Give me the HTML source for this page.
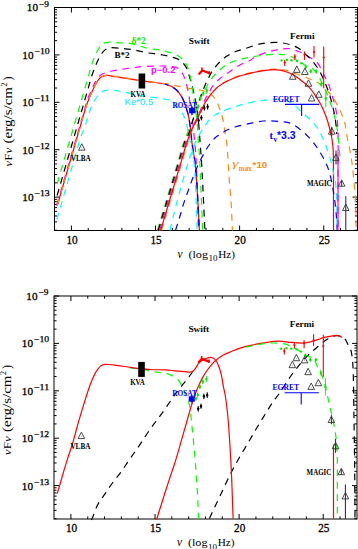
<!DOCTYPE html>
<html><head><meta charset="utf-8"><style>
html,body{margin:0;padding:0;background:#fff;overflow:hidden;width:358px;height:549px;}
svg{display:block;}
</style></head><body>
<svg width="358" height="549" viewBox="0 0 358 549"><line x1="71.42" y1="230.50" x2="71.42" y2="225.50" stroke="#000000" stroke-width="1.00"/>
<line x1="71.42" y1="7.50" x2="71.42" y2="12.50" stroke="#000000" stroke-width="1.00"/>
<line x1="88.24" y1="230.50" x2="88.24" y2="227.90" stroke="#000000" stroke-width="1.00"/>
<line x1="88.24" y1="7.50" x2="88.24" y2="10.10" stroke="#000000" stroke-width="1.00"/>
<line x1="105.06" y1="230.50" x2="105.06" y2="227.90" stroke="#000000" stroke-width="1.00"/>
<line x1="105.06" y1="7.50" x2="105.06" y2="10.10" stroke="#000000" stroke-width="1.00"/>
<line x1="121.88" y1="230.50" x2="121.88" y2="227.90" stroke="#000000" stroke-width="1.00"/>
<line x1="121.88" y1="7.50" x2="121.88" y2="10.10" stroke="#000000" stroke-width="1.00"/>
<line x1="138.70" y1="230.50" x2="138.70" y2="227.90" stroke="#000000" stroke-width="1.00"/>
<line x1="138.70" y1="7.50" x2="138.70" y2="10.10" stroke="#000000" stroke-width="1.00"/>
<line x1="155.52" y1="230.50" x2="155.52" y2="225.50" stroke="#000000" stroke-width="1.00"/>
<line x1="155.52" y1="7.50" x2="155.52" y2="12.50" stroke="#000000" stroke-width="1.00"/>
<line x1="172.34" y1="230.50" x2="172.34" y2="227.90" stroke="#000000" stroke-width="1.00"/>
<line x1="172.34" y1="7.50" x2="172.34" y2="10.10" stroke="#000000" stroke-width="1.00"/>
<line x1="189.16" y1="230.50" x2="189.16" y2="227.90" stroke="#000000" stroke-width="1.00"/>
<line x1="189.16" y1="7.50" x2="189.16" y2="10.10" stroke="#000000" stroke-width="1.00"/>
<line x1="205.98" y1="230.50" x2="205.98" y2="227.90" stroke="#000000" stroke-width="1.00"/>
<line x1="205.98" y1="7.50" x2="205.98" y2="10.10" stroke="#000000" stroke-width="1.00"/>
<line x1="222.80" y1="230.50" x2="222.80" y2="227.90" stroke="#000000" stroke-width="1.00"/>
<line x1="222.80" y1="7.50" x2="222.80" y2="10.10" stroke="#000000" stroke-width="1.00"/>
<line x1="239.62" y1="230.50" x2="239.62" y2="225.50" stroke="#000000" stroke-width="1.00"/>
<line x1="239.62" y1="7.50" x2="239.62" y2="12.50" stroke="#000000" stroke-width="1.00"/>
<line x1="256.44" y1="230.50" x2="256.44" y2="227.90" stroke="#000000" stroke-width="1.00"/>
<line x1="256.44" y1="7.50" x2="256.44" y2="10.10" stroke="#000000" stroke-width="1.00"/>
<line x1="273.26" y1="230.50" x2="273.26" y2="227.90" stroke="#000000" stroke-width="1.00"/>
<line x1="273.26" y1="7.50" x2="273.26" y2="10.10" stroke="#000000" stroke-width="1.00"/>
<line x1="290.08" y1="230.50" x2="290.08" y2="227.90" stroke="#000000" stroke-width="1.00"/>
<line x1="290.08" y1="7.50" x2="290.08" y2="10.10" stroke="#000000" stroke-width="1.00"/>
<line x1="306.90" y1="230.50" x2="306.90" y2="227.90" stroke="#000000" stroke-width="1.00"/>
<line x1="306.90" y1="7.50" x2="306.90" y2="10.10" stroke="#000000" stroke-width="1.00"/>
<line x1="323.72" y1="230.50" x2="323.72" y2="225.50" stroke="#000000" stroke-width="1.00"/>
<line x1="323.72" y1="7.50" x2="323.72" y2="12.50" stroke="#000000" stroke-width="1.00"/>
<line x1="340.54" y1="230.50" x2="340.54" y2="227.90" stroke="#000000" stroke-width="1.00"/>
<line x1="340.54" y1="7.50" x2="340.54" y2="10.10" stroke="#000000" stroke-width="1.00"/>
<line x1="54.50" y1="230.23" x2="57.10" y2="230.23" stroke="#000000" stroke-width="1.00"/>
<line x1="357.50" y1="230.23" x2="354.90" y2="230.23" stroke="#000000" stroke-width="1.00"/>
<line x1="54.50" y1="221.88" x2="57.10" y2="221.88" stroke="#000000" stroke-width="1.00"/>
<line x1="357.50" y1="221.88" x2="354.90" y2="221.88" stroke="#000000" stroke-width="1.00"/>
<line x1="54.50" y1="215.96" x2="57.10" y2="215.96" stroke="#000000" stroke-width="1.00"/>
<line x1="357.50" y1="215.96" x2="354.90" y2="215.96" stroke="#000000" stroke-width="1.00"/>
<line x1="54.50" y1="211.37" x2="57.10" y2="211.37" stroke="#000000" stroke-width="1.00"/>
<line x1="357.50" y1="211.37" x2="354.90" y2="211.37" stroke="#000000" stroke-width="1.00"/>
<line x1="54.50" y1="207.62" x2="57.10" y2="207.62" stroke="#000000" stroke-width="1.00"/>
<line x1="357.50" y1="207.62" x2="354.90" y2="207.62" stroke="#000000" stroke-width="1.00"/>
<line x1="54.50" y1="204.44" x2="57.10" y2="204.44" stroke="#000000" stroke-width="1.00"/>
<line x1="357.50" y1="204.44" x2="354.90" y2="204.44" stroke="#000000" stroke-width="1.00"/>
<line x1="54.50" y1="201.69" x2="57.10" y2="201.69" stroke="#000000" stroke-width="1.00"/>
<line x1="357.50" y1="201.69" x2="354.90" y2="201.69" stroke="#000000" stroke-width="1.00"/>
<line x1="54.50" y1="199.27" x2="57.10" y2="199.27" stroke="#000000" stroke-width="1.00"/>
<line x1="357.50" y1="199.27" x2="354.90" y2="199.27" stroke="#000000" stroke-width="1.00"/>
<line x1="54.50" y1="197.10" x2="59.50" y2="197.10" stroke="#000000" stroke-width="1.00"/>
<line x1="357.50" y1="197.10" x2="352.50" y2="197.10" stroke="#000000" stroke-width="1.00"/>
<line x1="54.50" y1="182.83" x2="57.10" y2="182.83" stroke="#000000" stroke-width="1.00"/>
<line x1="357.50" y1="182.83" x2="354.90" y2="182.83" stroke="#000000" stroke-width="1.00"/>
<line x1="54.50" y1="174.48" x2="57.10" y2="174.48" stroke="#000000" stroke-width="1.00"/>
<line x1="357.50" y1="174.48" x2="354.90" y2="174.48" stroke="#000000" stroke-width="1.00"/>
<line x1="54.50" y1="168.56" x2="57.10" y2="168.56" stroke="#000000" stroke-width="1.00"/>
<line x1="357.50" y1="168.56" x2="354.90" y2="168.56" stroke="#000000" stroke-width="1.00"/>
<line x1="54.50" y1="163.97" x2="57.10" y2="163.97" stroke="#000000" stroke-width="1.00"/>
<line x1="357.50" y1="163.97" x2="354.90" y2="163.97" stroke="#000000" stroke-width="1.00"/>
<line x1="54.50" y1="160.22" x2="57.10" y2="160.22" stroke="#000000" stroke-width="1.00"/>
<line x1="357.50" y1="160.22" x2="354.90" y2="160.22" stroke="#000000" stroke-width="1.00"/>
<line x1="54.50" y1="157.04" x2="57.10" y2="157.04" stroke="#000000" stroke-width="1.00"/>
<line x1="357.50" y1="157.04" x2="354.90" y2="157.04" stroke="#000000" stroke-width="1.00"/>
<line x1="54.50" y1="154.29" x2="57.10" y2="154.29" stroke="#000000" stroke-width="1.00"/>
<line x1="357.50" y1="154.29" x2="354.90" y2="154.29" stroke="#000000" stroke-width="1.00"/>
<line x1="54.50" y1="151.87" x2="57.10" y2="151.87" stroke="#000000" stroke-width="1.00"/>
<line x1="357.50" y1="151.87" x2="354.90" y2="151.87" stroke="#000000" stroke-width="1.00"/>
<line x1="54.50" y1="149.70" x2="59.50" y2="149.70" stroke="#000000" stroke-width="1.00"/>
<line x1="357.50" y1="149.70" x2="352.50" y2="149.70" stroke="#000000" stroke-width="1.00"/>
<line x1="54.50" y1="135.43" x2="57.10" y2="135.43" stroke="#000000" stroke-width="1.00"/>
<line x1="357.50" y1="135.43" x2="354.90" y2="135.43" stroke="#000000" stroke-width="1.00"/>
<line x1="54.50" y1="127.08" x2="57.10" y2="127.08" stroke="#000000" stroke-width="1.00"/>
<line x1="357.50" y1="127.08" x2="354.90" y2="127.08" stroke="#000000" stroke-width="1.00"/>
<line x1="54.50" y1="121.16" x2="57.10" y2="121.16" stroke="#000000" stroke-width="1.00"/>
<line x1="357.50" y1="121.16" x2="354.90" y2="121.16" stroke="#000000" stroke-width="1.00"/>
<line x1="54.50" y1="116.57" x2="57.10" y2="116.57" stroke="#000000" stroke-width="1.00"/>
<line x1="357.50" y1="116.57" x2="354.90" y2="116.57" stroke="#000000" stroke-width="1.00"/>
<line x1="54.50" y1="112.82" x2="57.10" y2="112.82" stroke="#000000" stroke-width="1.00"/>
<line x1="357.50" y1="112.82" x2="354.90" y2="112.82" stroke="#000000" stroke-width="1.00"/>
<line x1="54.50" y1="109.64" x2="57.10" y2="109.64" stroke="#000000" stroke-width="1.00"/>
<line x1="357.50" y1="109.64" x2="354.90" y2="109.64" stroke="#000000" stroke-width="1.00"/>
<line x1="54.50" y1="106.89" x2="57.10" y2="106.89" stroke="#000000" stroke-width="1.00"/>
<line x1="357.50" y1="106.89" x2="354.90" y2="106.89" stroke="#000000" stroke-width="1.00"/>
<line x1="54.50" y1="104.47" x2="57.10" y2="104.47" stroke="#000000" stroke-width="1.00"/>
<line x1="357.50" y1="104.47" x2="354.90" y2="104.47" stroke="#000000" stroke-width="1.00"/>
<line x1="54.50" y1="102.30" x2="59.50" y2="102.30" stroke="#000000" stroke-width="1.00"/>
<line x1="357.50" y1="102.30" x2="352.50" y2="102.30" stroke="#000000" stroke-width="1.00"/>
<line x1="54.50" y1="88.03" x2="57.10" y2="88.03" stroke="#000000" stroke-width="1.00"/>
<line x1="357.50" y1="88.03" x2="354.90" y2="88.03" stroke="#000000" stroke-width="1.00"/>
<line x1="54.50" y1="79.68" x2="57.10" y2="79.68" stroke="#000000" stroke-width="1.00"/>
<line x1="357.50" y1="79.68" x2="354.90" y2="79.68" stroke="#000000" stroke-width="1.00"/>
<line x1="54.50" y1="73.76" x2="57.10" y2="73.76" stroke="#000000" stroke-width="1.00"/>
<line x1="357.50" y1="73.76" x2="354.90" y2="73.76" stroke="#000000" stroke-width="1.00"/>
<line x1="54.50" y1="69.17" x2="57.10" y2="69.17" stroke="#000000" stroke-width="1.00"/>
<line x1="357.50" y1="69.17" x2="354.90" y2="69.17" stroke="#000000" stroke-width="1.00"/>
<line x1="54.50" y1="65.42" x2="57.10" y2="65.42" stroke="#000000" stroke-width="1.00"/>
<line x1="357.50" y1="65.42" x2="354.90" y2="65.42" stroke="#000000" stroke-width="1.00"/>
<line x1="54.50" y1="62.24" x2="57.10" y2="62.24" stroke="#000000" stroke-width="1.00"/>
<line x1="357.50" y1="62.24" x2="354.90" y2="62.24" stroke="#000000" stroke-width="1.00"/>
<line x1="54.50" y1="59.49" x2="57.10" y2="59.49" stroke="#000000" stroke-width="1.00"/>
<line x1="357.50" y1="59.49" x2="354.90" y2="59.49" stroke="#000000" stroke-width="1.00"/>
<line x1="54.50" y1="57.07" x2="57.10" y2="57.07" stroke="#000000" stroke-width="1.00"/>
<line x1="357.50" y1="57.07" x2="354.90" y2="57.07" stroke="#000000" stroke-width="1.00"/>
<line x1="54.50" y1="54.90" x2="59.50" y2="54.90" stroke="#000000" stroke-width="1.00"/>
<line x1="357.50" y1="54.90" x2="352.50" y2="54.90" stroke="#000000" stroke-width="1.00"/>
<line x1="54.50" y1="40.63" x2="57.10" y2="40.63" stroke="#000000" stroke-width="1.00"/>
<line x1="357.50" y1="40.63" x2="354.90" y2="40.63" stroke="#000000" stroke-width="1.00"/>
<line x1="54.50" y1="32.28" x2="57.10" y2="32.28" stroke="#000000" stroke-width="1.00"/>
<line x1="357.50" y1="32.28" x2="354.90" y2="32.28" stroke="#000000" stroke-width="1.00"/>
<line x1="54.50" y1="26.36" x2="57.10" y2="26.36" stroke="#000000" stroke-width="1.00"/>
<line x1="357.50" y1="26.36" x2="354.90" y2="26.36" stroke="#000000" stroke-width="1.00"/>
<line x1="54.50" y1="21.77" x2="57.10" y2="21.77" stroke="#000000" stroke-width="1.00"/>
<line x1="357.50" y1="21.77" x2="354.90" y2="21.77" stroke="#000000" stroke-width="1.00"/>
<line x1="54.50" y1="18.02" x2="57.10" y2="18.02" stroke="#000000" stroke-width="1.00"/>
<line x1="357.50" y1="18.02" x2="354.90" y2="18.02" stroke="#000000" stroke-width="1.00"/>
<line x1="54.50" y1="14.84" x2="57.10" y2="14.84" stroke="#000000" stroke-width="1.00"/>
<line x1="357.50" y1="14.84" x2="354.90" y2="14.84" stroke="#000000" stroke-width="1.00"/>
<line x1="54.50" y1="12.09" x2="57.10" y2="12.09" stroke="#000000" stroke-width="1.00"/>
<line x1="357.50" y1="12.09" x2="354.90" y2="12.09" stroke="#000000" stroke-width="1.00"/>
<line x1="54.50" y1="9.67" x2="57.10" y2="9.67" stroke="#000000" stroke-width="1.00"/>
<line x1="357.50" y1="9.67" x2="354.90" y2="9.67" stroke="#000000" stroke-width="1.00"/>
<line x1="54.50" y1="7.50" x2="59.50" y2="7.50" stroke="#000000" stroke-width="1.00"/>
<line x1="357.50" y1="7.50" x2="352.50" y2="7.50" stroke="#000000" stroke-width="1.00"/>
<rect x="54.5" y="7.5" width="303.0" height="223.0" fill="none" stroke="#000" stroke-width="1"/>
<text x="26.80" y="11.40" font-family="Liberation Serif" font-size="11.2" textLength="11.2" lengthAdjust="spacingAndGlyphs" fill="#000" stroke="#000" stroke-width="0.3">10</text>
<text x="39.00" y="6.50" font-family="Liberation Serif" font-size="7.6" textLength="10.0" lengthAdjust="spacingAndGlyphs" fill="#000" stroke="#000" stroke-width="0.25">−9</text>
<text x="22.30" y="58.80" font-family="Liberation Serif" font-size="11.2" textLength="11.2" lengthAdjust="spacingAndGlyphs" fill="#000" stroke="#000" stroke-width="0.3">10</text>
<text x="34.50" y="53.90" font-family="Liberation Serif" font-size="7.6" textLength="15.2" lengthAdjust="spacingAndGlyphs" fill="#000" stroke="#000" stroke-width="0.25">−10</text>
<text x="22.30" y="106.20" font-family="Liberation Serif" font-size="11.2" textLength="11.2" lengthAdjust="spacingAndGlyphs" fill="#000" stroke="#000" stroke-width="0.3">10</text>
<text x="34.50" y="101.30" font-family="Liberation Serif" font-size="7.6" textLength="15.2" lengthAdjust="spacingAndGlyphs" fill="#000" stroke="#000" stroke-width="0.25">−11</text>
<text x="22.30" y="153.60" font-family="Liberation Serif" font-size="11.2" textLength="11.2" lengthAdjust="spacingAndGlyphs" fill="#000" stroke="#000" stroke-width="0.3">10</text>
<text x="34.50" y="148.70" font-family="Liberation Serif" font-size="7.6" textLength="15.2" lengthAdjust="spacingAndGlyphs" fill="#000" stroke="#000" stroke-width="0.25">−12</text>
<text x="22.30" y="201.00" font-family="Liberation Serif" font-size="11.2" textLength="11.2" lengthAdjust="spacingAndGlyphs" fill="#000" stroke="#000" stroke-width="0.3">10</text>
<text x="34.50" y="196.10" font-family="Liberation Serif" font-size="7.6" textLength="15.2" lengthAdjust="spacingAndGlyphs" fill="#000" stroke="#000" stroke-width="0.25">−13</text>
<text x="72.02" y="243.60" font-family="Liberation Serif" font-size="11.60" font-weight="normal" fill="#000000" text-anchor="middle" textLength="11.2" lengthAdjust="spacingAndGlyphs" stroke="#000" stroke-width="0.3">10</text>
<text x="156.12" y="243.60" font-family="Liberation Serif" font-size="11.60" font-weight="normal" fill="#000000" text-anchor="middle" textLength="11.2" lengthAdjust="spacingAndGlyphs" stroke="#000" stroke-width="0.3">15</text>
<text x="240.22" y="243.60" font-family="Liberation Serif" font-size="11.60" font-weight="normal" fill="#000000" text-anchor="middle" textLength="11.2" lengthAdjust="spacingAndGlyphs" stroke="#000" stroke-width="0.3">20</text>
<text x="324.32" y="243.60" font-family="Liberation Serif" font-size="11.60" font-weight="normal" fill="#000000" text-anchor="middle" textLength="11.2" lengthAdjust="spacingAndGlyphs" stroke="#000" stroke-width="0.3">25</text>
<text x="177.4" y="257.60" font-family="Liberation Serif" font-style="italic" font-size="11.5" fill="#000" textLength="5" lengthAdjust="spacingAndGlyphs">ν</text>
<text x="188.4" y="257.60" font-family="Liberation Serif" font-size="11" textLength="19.6" lengthAdjust="spacingAndGlyphs" fill="#000">(log</text>
<text x="208.6" y="261.20" font-family="Liberation Serif" font-size="8.6" textLength="9" lengthAdjust="spacingAndGlyphs" fill="#000">10</text>
<text x="218.2" y="257.60" font-family="Liberation Serif" font-size="11" textLength="16.8" lengthAdjust="spacingAndGlyphs" fill="#000">Hz)</text>
<g transform="translate(11.9,0.00) rotate(-90)"><text x="-166.7" y="0" font-family="Liberation Serif" font-size="10" textLength="19" lengthAdjust="spacingAndGlyphs" fill="#000"><tspan font-style="italic">ν</tspan>F<tspan font-style="italic">ν</tspan></text><text x="-143.4" y="0" font-family="Liberation Serif" font-size="12.2" textLength="56.4" lengthAdjust="spacingAndGlyphs" fill="#000">(erg/s/cm</text><text x="-86.6" y="-5.2" font-family="Liberation Serif" font-size="8" fill="#000">2</text><text x="-80.4" y="0" font-family="Liberation Serif" font-size="12.2" fill="#000">)</text></g>
<path d="M56.70,205.50 C57.86,201.50 59.02,197.50 60.18,193.50 C61.34,189.50 62.50,185.50 63.66,181.50 C64.82,177.50 65.98,173.50 67.14,169.50 C68.30,165.50 69.46,161.50 70.62,157.50 C71.78,153.50 72.94,149.50 74.10,145.50 C75.26,141.50 76.42,137.50 77.58,133.50 C78.74,129.50 79.90,125.50 81.06,121.50 C82.22,117.50 83.42,113.37 84.54,109.50 C85.59,105.88 86.55,101.91 87.60,99.00 C88.38,96.84 89.23,95.24 90.00,93.50 C90.69,91.92 91.33,90.50 92.00,89.00 C92.67,87.50 93.37,85.84 94.00,84.50 C94.52,83.39 94.96,82.55 95.50,81.50 C96.11,80.33 96.70,78.83 97.50,77.80 C98.22,76.87 99.09,76.16 100.00,75.50 C100.92,74.83 101.98,74.29 103.00,73.80 C103.98,73.33 104.92,72.96 106.00,72.60 C107.23,72.19 108.89,71.79 110.00,71.50 C110.78,71.30 111.11,71.19 112.00,71.00 C113.77,70.62 116.96,70.08 120.00,69.60 C124.01,68.96 129.61,68.15 134.00,67.60 C137.88,67.11 141.04,66.67 145.00,66.40 C149.61,66.09 155.28,65.95 160.00,66.00 C164.22,66.05 168.61,66.02 172.00,66.60 C174.59,67.04 176.96,67.42 178.70,68.60 C180.26,69.66 181.15,71.29 182.20,73.00 C183.43,75.00 184.57,77.65 185.40,80.00 C186.18,82.22 186.55,84.38 187.10,86.70 C187.69,89.20 188.33,91.89 188.80,94.50 C189.26,97.09 189.53,99.69 189.90,102.30 C190.27,104.92 190.60,107.31 191.00,110.20 C191.48,113.70 192.09,117.61 192.60,121.80 C193.20,126.75 193.76,132.46 194.30,138.00 C194.87,143.84 195.47,149.56 195.90,156.00 C196.40,163.42 196.69,171.92 197.00,180.00 C197.32,188.25 197.58,196.62 197.80,205.00 C198.02,213.46 198.13,222.00 198.30,230.50" stroke="#ff00ff" stroke-width="1.20" fill="none" stroke-dasharray="6.8 5.6"/>
<path d="M57.30,205.50 C58.46,201.50 59.62,197.50 60.78,193.50 C61.94,189.50 63.10,185.50 64.26,181.50 C65.42,177.50 66.58,173.50 67.74,169.50 C68.90,165.50 70.06,161.50 71.22,157.50 C72.38,153.50 73.54,149.50 74.70,145.50 C75.86,141.50 77.02,137.50 78.18,133.50 C79.34,129.50 80.47,125.58 81.66,121.50 C82.90,117.25 84.33,112.16 85.50,108.50 C86.36,105.80 87.09,103.68 87.90,101.50 C88.63,99.55 89.33,97.80 90.10,96.00 C90.86,94.23 91.68,92.56 92.50,90.80 C93.35,88.99 94.25,86.94 95.10,85.30 C95.81,83.93 96.48,82.73 97.20,81.60 C97.85,80.58 98.48,79.58 99.20,78.80 C99.83,78.12 100.50,77.56 101.20,77.10 C101.84,76.68 102.40,76.37 103.20,76.10 C104.26,75.75 105.80,75.43 107.10,75.40 C108.40,75.37 109.92,75.72 111.00,75.90 C111.78,76.03 112.13,76.15 113.00,76.30 C114.62,76.58 117.27,76.88 120.00,77.30 C123.87,77.89 129.25,78.86 134.00,79.60 C138.91,80.36 143.93,81.08 149.00,81.80 C154.20,82.54 160.60,82.93 164.80,84.00 C167.71,84.74 169.95,85.59 172.00,86.70 C173.75,87.65 175.08,88.64 176.50,90.00 C178.11,91.54 179.71,93.57 181.00,95.60 C182.32,97.67 183.38,100.03 184.30,102.30 C185.20,104.50 185.80,106.74 186.50,109.00 C187.21,111.30 187.91,113.33 188.50,116.00 C189.26,119.44 189.84,123.78 190.40,128.00 C191.02,132.69 191.40,138.33 192.00,142.90 C192.52,146.82 193.15,150.16 193.70,153.80 C194.25,157.46 194.81,160.37 195.30,164.80 C196.04,171.47 196.68,182.08 197.20,190.00 C197.66,197.05 197.94,203.29 198.30,210.00 C198.67,216.79 199.03,223.67 199.40,230.50" stroke="#ff0000" stroke-width="1.20" fill="none"/>
<path d="M57.30,205.50 C58.46,201.50 59.62,197.50 60.78,193.50 C61.94,189.50 63.10,185.50 64.26,181.50 C65.42,177.50 66.58,173.50 67.74,169.50 C68.90,165.50 70.06,161.50 71.22,157.50 C72.38,153.50 73.54,149.50 74.70,145.50 C75.86,141.50 77.02,137.50 78.18,133.50 C79.34,129.50 80.47,125.60 81.66,121.50 C82.91,117.18 84.33,111.92 85.50,108.20 C86.36,105.48 87.09,103.38 87.90,101.20 C88.63,99.25 89.33,97.50 90.10,95.70 C90.86,93.93 91.68,92.26 92.50,90.50 C93.35,88.69 94.25,86.64 95.10,85.00 C95.81,83.63 96.48,82.43 97.20,81.30 C97.85,80.28 98.48,79.28 99.20,78.50 C99.83,77.82 100.50,77.26 101.20,76.80 C101.84,76.38 102.40,76.07 103.20,75.80 C104.26,75.45 105.80,75.13 107.10,75.10 C108.40,75.07 109.92,75.42 111.00,75.60 C111.78,75.73 112.13,75.85 113.00,76.00 C114.62,76.28 117.27,76.58 120.00,77.00 C123.87,77.59 129.25,78.56 134.00,79.30 C138.91,80.06 143.93,80.78 149.00,81.50 C154.20,82.24 160.56,83.02 164.80,83.70 C167.67,84.16 169.75,84.58 172.00,85.00 C173.99,85.37 175.73,85.72 177.60,86.10 C179.47,86.48 181.33,86.92 183.20,87.30 C185.07,87.68 186.94,88.12 188.80,88.40 C190.64,88.68 192.46,88.74 194.30,89.00 C196.16,89.27 198.04,89.60 199.90,90.00 C201.77,90.40 203.75,90.74 205.50,91.40 C207.17,92.03 208.75,92.75 210.20,93.80 C211.73,94.92 213.16,96.34 214.40,98.00 C215.80,99.87 216.94,102.32 218.00,104.60 C219.08,106.91 219.98,109.30 220.80,111.80 C221.66,114.42 222.36,117.08 223.00,120.00 C223.72,123.29 224.21,127.08 224.80,130.60 C225.38,134.08 226.05,137.47 226.50,141.00 C226.96,144.63 227.15,147.59 227.50,152.10 C228.04,159.11 228.57,170.04 229.20,179.00 C229.83,187.94 230.76,197.04 231.30,205.80 C231.82,214.20 232.03,222.27 232.40,230.50" stroke="#ff8a10" stroke-width="1.20" fill="none" stroke-dasharray="6.8 5.6"/>
<path d="M164.80,84.00 C167.20,84.90 169.95,85.59 172.00,86.70 C173.75,87.65 175.08,88.64 176.50,90.00 C178.11,91.54 179.71,93.57 181.00,95.60 C182.32,97.67 183.38,100.03 184.30,102.30 C185.20,104.50 185.80,106.74 186.50,109.00 C187.21,111.30 187.91,113.33 188.50,116.00 C189.26,119.44 189.84,123.78 190.40,128.00 C191.02,132.69 191.40,138.33 192.00,142.90 C192.52,146.82 193.15,150.16 193.70,153.80 C194.25,157.46 194.81,160.37 195.30,164.80 C196.04,171.47 196.68,182.08 197.20,190.00 C197.66,197.05 197.94,203.29 198.30,210.00 C198.67,216.79 199.03,223.67 199.40,230.50" stroke="#0000ff" stroke-width="1.3" fill="none" stroke-dasharray="6.8 5.6" stroke-dashoffset="3"/>
<path d="M56.81,219.60 C57.97,215.60 59.13,211.60 60.29,207.60 C61.45,203.60 62.61,199.60 63.77,195.60 C64.93,191.60 66.09,187.60 67.25,183.60 C68.41,179.60 69.57,175.60 70.73,171.60 C71.89,167.60 73.05,163.60 74.21,159.60 C75.37,155.60 76.53,151.60 77.69,147.60 C78.85,143.60 79.90,139.11 81.17,135.60 C82.21,132.74 83.54,130.64 84.50,128.00 C85.49,125.28 86.16,122.19 87.00,119.50 C87.76,117.05 88.53,114.77 89.30,112.50 C90.03,110.34 90.67,108.14 91.50,106.20 C92.25,104.44 93.12,102.81 94.00,101.30 C94.80,99.93 95.55,98.76 96.50,97.50 C97.53,96.13 98.88,94.46 100.00,93.40 C100.86,92.59 101.64,92.01 102.50,91.50 C103.31,91.03 103.96,90.64 105.00,90.40 C106.54,90.05 108.75,90.10 111.00,90.20 C113.91,90.33 117.06,90.76 121.00,91.40 C126.79,92.34 135.09,94.53 142.30,95.80 C149.65,97.10 159.30,97.93 164.70,99.10 C167.83,99.78 169.98,100.01 172.00,101.20 C173.85,102.29 175.04,104.08 176.50,105.70 C178.05,107.43 179.68,109.38 181.00,111.30 C182.26,113.12 183.42,114.94 184.30,116.90 C185.18,118.84 185.71,120.81 186.30,123.00 C186.97,125.47 187.38,128.06 188.00,131.00 C188.76,134.60 189.65,139.00 190.50,143.00 C191.35,147.00 192.40,150.47 193.10,155.00 C194.00,160.80 194.50,167.96 195.00,175.00 C195.56,182.86 195.88,191.25 196.20,200.00 C196.56,209.66 196.73,220.33 197.00,230.50" stroke="#00ffff" stroke-width="1.20" fill="none" stroke-dasharray="6.8 5.6"/>
<path d="M57.10,195.50 C58.26,191.50 59.42,187.50 60.58,183.50 C61.74,179.50 62.90,175.50 64.06,171.50 C65.22,167.50 66.38,163.50 67.54,159.50 C68.70,155.50 69.86,151.50 71.02,147.50 C72.18,143.50 73.34,139.50 74.50,135.50 C75.66,131.50 76.82,127.50 77.98,123.50 C79.14,119.50 80.30,115.50 81.46,111.50 C82.62,107.50 83.78,103.50 84.94,99.50 C86.10,95.50 87.26,91.50 88.42,87.50 C89.58,83.50 90.83,78.75 91.90,75.50 C92.64,73.23 93.22,71.82 94.00,69.80 C94.90,67.47 95.95,64.64 97.00,62.30 C97.96,60.17 98.94,58.13 100.00,56.30 C100.95,54.66 101.86,53.08 103.00,51.80 C104.05,50.62 105.26,49.47 106.50,48.80 C107.61,48.21 108.49,47.98 110.00,47.80 C112.63,47.49 117.19,47.98 121.00,48.30 C125.16,48.65 129.65,49.16 134.00,49.90 C138.45,50.65 142.75,51.97 147.40,52.80 C152.39,53.69 157.83,53.90 163.00,55.00 C168.26,56.12 175.10,57.59 178.70,59.50 C180.93,60.68 182.14,61.99 183.50,63.50 C184.82,64.97 185.85,66.46 186.80,68.40 C187.97,70.80 188.71,74.09 189.60,77.00 C190.51,79.96 191.45,83.08 192.20,86.00 C192.90,88.73 193.40,91.33 194.00,94.00 C194.60,96.67 195.24,99.18 195.80,102.00 C196.42,105.14 196.99,108.18 197.50,112.00 C198.17,117.05 198.72,124.01 199.20,129.70 C199.64,134.98 199.93,139.93 200.30,145.00 C200.66,150.02 201.03,154.14 201.40,160.00 C201.92,168.28 202.46,179.25 203.00,190.00 C203.63,202.49 204.27,217.00 204.90,230.50" stroke="#000000" stroke-width="1.20" fill="none" stroke-dasharray="6.8 5.6"/>
<path d="M57.28,183.50 C58.44,179.50 59.60,175.50 60.76,171.50 C61.92,167.50 63.08,163.50 64.24,159.50 C65.40,155.50 66.56,151.50 67.72,147.50 C68.88,143.50 70.04,139.50 71.20,135.50 C72.36,131.50 73.52,127.50 74.68,123.50 C75.84,119.50 77.00,115.50 78.16,111.50 C79.32,107.50 80.48,103.50 81.64,99.50 C82.80,95.50 83.96,91.50 85.12,87.50 C86.28,83.50 87.71,78.64 88.60,75.50 C89.18,73.48 89.42,72.42 90.00,70.50 C90.79,67.85 91.94,64.04 93.00,61.10 C93.95,58.44 94.93,55.88 96.00,53.60 C96.94,51.59 97.85,49.69 99.00,48.10 C100.04,46.67 101.25,45.34 102.50,44.40 C103.60,43.57 104.76,42.98 106.00,42.60 C107.26,42.21 108.33,42.14 110.00,42.10 C112.76,42.04 117.18,42.68 121.00,43.00 C125.15,43.35 129.68,43.25 134.00,44.10 C138.48,44.98 142.72,47.23 147.40,48.30 C152.36,49.44 158.03,49.43 163.00,50.60 C167.71,51.71 172.86,53.15 176.50,55.00 C179.32,56.44 181.69,58.29 183.40,60.00 C184.71,61.31 185.47,62.47 186.30,64.00 C187.25,65.74 187.93,67.83 188.60,70.00 C189.36,72.45 189.93,75.27 190.50,78.00 C191.10,80.83 191.64,83.87 192.10,86.70 C192.53,89.37 192.83,91.90 193.20,94.50 C193.57,97.10 193.92,99.69 194.30,102.30 C194.68,104.93 195.08,107.58 195.50,110.20 C195.92,112.81 196.43,114.79 196.80,118.00 C197.39,123.11 197.63,131.18 198.10,138.00 C198.59,145.16 199.24,152.10 199.70,160.00 C200.24,169.22 200.54,179.25 201.00,190.00 C201.53,202.49 202.13,217.00 202.70,230.50" stroke="#00ff00" stroke-width="1.20" fill="none" stroke-dasharray="6.8 5.6"/>
<path d="M159.50,230.50 C160.54,227.00 161.59,223.46 162.62,220.00 C163.62,216.63 164.59,213.33 165.59,210.00 C166.59,206.67 167.60,203.33 168.60,200.00 C169.60,196.67 170.60,193.33 171.60,190.00 C172.60,186.67 173.61,183.33 174.61,180.00 C175.61,176.67 176.61,173.33 177.60,170.00 C178.59,166.67 179.57,163.33 180.55,160.00 C181.53,156.67 182.47,153.33 183.49,150.00 C184.52,146.66 185.59,142.84 186.69,140.00 C187.54,137.81 188.43,136.25 189.30,134.30 C190.20,132.26 191.01,130.14 192.00,128.00 C193.06,125.71 194.36,123.34 195.50,121.00 C196.63,118.67 197.75,116.36 198.80,114.00 C199.85,111.63 200.73,109.27 201.80,106.80 C202.95,104.15 204.23,101.04 205.50,98.60 C206.58,96.52 207.72,94.89 208.80,93.00 C209.89,91.09 210.63,89.17 212.00,87.20 C213.64,84.85 216.06,82.03 218.20,80.00 C220.08,78.21 222.02,76.92 224.00,75.50 C225.96,74.09 228.01,72.86 230.00,71.50 C232.01,70.13 233.86,68.63 236.00,67.30 C238.28,65.88 240.89,64.46 243.30,63.30 C245.55,62.22 247.97,61.61 250.00,60.50 C251.87,59.48 252.98,58.14 255.10,57.00 C258.13,55.38 262.85,53.56 266.80,52.30 C270.66,51.07 274.72,50.12 278.50,49.50 C281.97,48.93 285.41,48.31 288.60,48.60 C291.55,48.86 294.27,49.92 297.00,50.90 C299.74,51.88 302.46,53.16 305.00,54.50 C307.45,55.80 309.89,57.38 312.00,58.80 C313.84,60.04 315.50,60.90 317.00,62.50 C318.73,64.35 320.17,67.08 321.50,69.50 C322.83,71.91 323.83,74.65 325.00,77.00 C326.06,79.13 327.25,80.71 328.20,83.00 C329.37,85.80 330.18,89.37 331.20,92.70 C332.28,96.23 333.56,99.78 334.50,103.60 C335.52,107.72 336.40,111.60 337.00,116.60 C337.81,123.30 338.07,133.34 338.20,140.30 C338.30,145.78 338.05,148.20 338.00,155.00 C337.90,170.41 338.00,205.33 338.00,230.50" stroke="#ff00ff" stroke-width="1.20" fill="none" stroke-dasharray="6.8 5.6"/>
<path d="M161.50,230.50 C162.54,227.00 163.59,223.46 164.62,220.00 C165.62,216.63 166.59,213.33 167.59,210.00 C168.59,206.67 169.60,203.33 170.60,200.00 C171.60,196.67 172.60,193.33 173.60,190.00 C174.60,186.67 175.61,183.33 176.61,180.00 C177.61,176.67 178.61,173.33 179.60,170.00 C180.59,166.67 181.57,163.33 182.55,160.00 C183.53,156.67 184.47,153.33 185.49,150.00 C186.52,146.66 187.74,142.91 188.69,140.00 C189.43,137.74 189.95,136.01 190.70,134.00 C191.48,131.91 192.32,129.89 193.30,127.70 C194.39,125.25 195.71,122.68 197.00,120.00 C198.40,117.07 199.89,113.89 201.40,110.80 C202.95,107.63 204.42,104.19 206.20,101.20 C207.90,98.35 209.72,95.72 211.80,93.20 C213.91,90.65 216.12,88.12 218.80,86.00 C221.64,83.75 225.08,81.91 228.50,80.20 C232.04,78.43 236.39,76.73 239.70,75.60 C242.25,74.73 244.34,74.29 246.60,73.70 C248.77,73.13 250.48,72.64 253.00,72.10 C256.56,71.34 261.94,70.32 266.00,69.80 C269.54,69.35 272.48,68.88 276.00,69.00 C279.99,69.14 285.10,69.93 288.70,70.90 C291.52,71.66 293.58,72.91 296.00,73.80 C298.35,74.67 300.68,75.34 303.00,76.20 C305.34,77.07 307.86,78.14 310.00,79.00 C311.81,79.72 313.37,80.19 315.00,81.00 C316.70,81.84 318.40,82.85 320.00,84.00 C321.64,85.18 323.20,86.59 324.70,88.00 C326.20,89.42 327.60,90.85 329.00,92.50 C330.54,94.32 332.01,96.22 333.50,98.50 C335.28,101.23 337.11,104.45 338.80,107.90 C340.74,111.85 342.91,116.26 344.30,121.00 C345.84,126.24 346.22,132.54 347.30,138.10 C348.33,143.43 349.73,148.75 350.60,153.70 C351.38,158.14 351.83,161.66 352.40,166.40 C353.12,172.39 353.85,180.00 354.40,186.80 C354.95,193.60 355.40,200.17 355.70,207.20 C356.02,214.71 356.03,222.73 356.20,230.50" stroke="#ff8a10" stroke-width="1.20" fill="none" stroke-dasharray="6.8 5.6"/>
<path d="M160.60,230.50 C162.40,224.43 164.19,218.37 166.00,212.30 C167.82,206.21 169.67,200.10 171.50,194.00 C173.33,187.90 175.41,180.99 177.00,175.70 C178.21,171.66 179.14,168.59 180.20,165.00 C181.27,161.36 182.33,157.65 183.40,154.00 C184.46,150.38 185.46,146.61 186.60,143.20 C187.64,140.07 188.84,137.00 189.90,134.30 C190.80,132.01 191.49,130.16 192.50,128.00 C193.62,125.61 195.09,123.21 196.40,120.60 C197.85,117.71 199.29,114.49 200.80,111.40 C202.35,108.23 203.82,104.79 205.60,101.80 C207.30,98.95 209.12,96.32 211.20,93.80 C213.31,91.25 215.52,88.72 218.20,86.60 C221.04,84.35 224.48,82.51 227.90,80.80 C231.44,79.03 235.79,77.33 239.10,76.20 C241.65,75.33 243.69,74.90 246.00,74.30 C248.32,73.70 250.30,73.17 253.00,72.60 C256.66,71.83 262.18,70.80 266.00,70.30 C268.98,69.91 271.52,69.61 274.00,69.60 C276.14,69.60 278.02,69.74 280.00,70.10 C282.02,70.47 284.10,71.17 286.00,71.80 C287.76,72.38 289.36,72.92 291.00,73.70 C292.70,74.51 294.24,75.43 296.00,76.60 C298.14,78.03 300.64,80.08 302.80,81.80 C304.83,83.41 306.77,84.70 308.60,86.60 C310.66,88.73 312.63,91.59 314.40,94.10 C316.08,96.49 317.62,98.91 319.00,101.30 C320.30,103.55 321.37,105.57 322.50,108.00 C323.78,110.75 325.08,113.90 326.20,117.00 C327.36,120.22 328.40,123.65 329.30,127.00 C330.19,130.32 330.98,133.65 331.60,137.00 C332.21,140.32 332.70,143.44 333.00,147.00 C333.34,151.04 333.31,155.20 333.40,160.00 C333.51,165.95 333.48,173.33 333.50,180.00 C333.52,186.67 333.50,192.63 333.50,200.00 C333.50,209.10 333.50,220.33 333.50,230.50" stroke="#ff0000" stroke-width="1.20" fill="none"/>
<path d="M175.50,230.50 C177.20,225.00 179.05,219.11 180.60,214.00 C181.94,209.58 182.97,205.65 184.30,201.60 C185.60,197.65 187.04,194.05 188.50,190.00 C190.10,185.55 191.77,180.47 193.50,176.00 C195.11,171.82 196.70,167.83 198.50,164.00 C200.22,160.34 202.11,156.84 204.00,153.50 C205.78,150.35 207.49,147.26 209.50,144.50 C211.41,141.88 213.57,139.12 215.70,137.30 C217.43,135.82 219.23,135.15 221.00,134.00 C222.83,132.82 224.40,131.40 226.50,130.30 C228.96,129.01 232.02,127.93 235.00,127.00 C238.17,126.01 241.15,125.44 245.00,124.60 C250.22,123.47 257.46,121.47 263.50,121.00 C269.21,120.55 275.36,121.09 280.30,121.60 C284.25,122.00 287.43,122.00 290.90,123.40 C294.88,125.01 299.09,128.49 302.60,131.40 C305.91,134.15 308.84,137.22 311.50,140.30 C314.01,143.20 316.05,146.02 318.20,149.30 C320.57,152.92 323.09,157.23 325.00,161.20 C326.78,164.90 328.09,167.89 329.40,172.30 C331.21,178.40 332.76,187.63 333.90,194.70 C334.92,200.98 335.55,206.62 336.10,212.60 C336.65,218.56 336.83,224.53 337.20,230.50" stroke="#0000ff" stroke-width="1.20" fill="none" stroke-dasharray="6.8 5.6"/>
<path d="M169.90,230.50 C172.07,221.73 174.17,212.76 176.40,204.20 C178.54,195.98 180.75,187.93 183.00,180.10 C185.15,172.61 187.30,165.06 189.60,158.20 C191.68,152.01 193.58,146.02 196.10,140.70 C198.38,135.88 200.99,131.59 203.80,127.50 C206.48,123.59 209.44,119.17 212.50,116.60 C214.90,114.58 217.28,113.80 220.00,112.50 C223.06,111.04 226.20,109.74 230.00,108.40 C234.84,106.69 241.17,104.74 246.80,103.40 C252.34,102.08 258.21,101.09 263.50,100.40 C268.22,99.78 272.84,99.16 277.00,99.30 C280.59,99.42 284.05,99.74 287.00,100.80 C289.65,101.75 291.69,103.26 294.00,105.00 C296.64,106.99 299.19,109.94 301.80,112.30 C304.35,114.61 307.02,116.55 309.50,119.00 C312.13,121.59 314.92,124.36 317.10,127.50 C319.34,130.72 321.02,134.47 322.70,138.10 C324.39,141.74 325.88,145.58 327.20,149.30 C328.47,152.88 329.49,156.24 330.50,160.00 C331.60,164.10 332.59,168.50 333.50,173.00 C334.47,177.81 335.54,182.62 336.10,188.00 C336.74,194.17 336.68,201.14 336.80,208.00 C336.93,215.28 336.80,223.00 336.80,230.50" stroke="#00ffff" stroke-width="1.20" fill="none" stroke-dasharray="6.8 5.6"/>
<path d="M157.40,230.50 C158.44,227.00 159.49,223.46 160.52,220.00 C161.52,216.63 162.49,213.33 163.49,210.00 C164.49,206.67 165.50,203.33 166.50,200.00 C167.50,196.67 168.50,193.33 169.50,190.00 C170.50,186.67 171.51,183.33 172.51,180.00 C173.51,176.67 174.51,173.33 175.50,170.00 C176.49,166.67 177.47,163.33 178.45,160.00 C179.43,156.67 180.37,153.33 181.39,150.00 C182.42,146.66 183.16,143.87 184.59,140.00 C186.64,134.44 190.69,125.98 193.00,120.00 C194.84,115.23 196.13,111.10 197.60,107.00 C198.92,103.31 199.98,99.72 201.40,96.50 C202.68,93.61 204.21,91.07 205.60,88.50 C206.91,86.08 207.99,83.78 209.50,81.50 C211.10,79.10 212.96,76.71 215.00,74.50 C217.11,72.21 219.58,69.88 222.00,68.00 C224.26,66.25 226.61,64.77 229.00,63.50 C231.28,62.29 233.73,61.28 236.00,60.50 C238.05,59.79 239.85,59.40 242.00,58.90 C244.47,58.33 246.99,57.85 250.00,57.30 C253.89,56.59 258.79,55.60 263.40,55.10 C268.27,54.57 273.98,54.15 278.50,54.30 C282.21,54.42 285.37,54.50 288.60,55.50 C291.91,56.53 295.07,58.72 298.10,60.50 C301.03,62.22 303.85,64.57 306.50,66.00 C308.67,67.17 310.79,67.19 312.70,68.70 C315.12,70.62 317.35,74.42 319.20,77.40 C320.95,80.23 322.12,82.87 323.60,86.10 C325.38,89.99 327.36,94.81 329.00,99.20 C330.62,103.54 332.13,107.91 333.40,112.30 C334.66,116.64 335.76,120.89 336.60,125.40 C337.48,130.11 337.98,135.21 338.50,140.00 C339.00,144.63 339.39,150.01 339.70,153.70 C339.91,156.20 340.03,157.90 340.20,160.00" stroke="#00ff00" stroke-width="1.20" fill="none" stroke-dasharray="6.8 5.6"/>
<path d="M158.20,230.50 C159.24,227.00 160.29,223.46 161.32,220.00 C162.32,216.63 163.29,213.33 164.29,210.00 C165.29,206.67 166.30,203.33 167.30,200.00 C168.30,196.67 169.30,193.33 170.30,190.00 C171.30,186.67 172.31,183.33 173.31,180.00 C174.31,176.67 175.31,173.33 176.30,170.00 C177.29,166.67 178.27,163.33 179.25,160.00 C180.23,156.67 181.17,153.33 182.19,150.00 C183.22,146.66 184.19,142.85 185.39,140.00 C186.34,137.73 187.46,136.61 188.50,134.10 C190.16,130.11 191.86,123.18 193.50,118.00 C195.03,113.17 196.57,108.27 198.00,104.00 C199.22,100.38 200.34,97.08 201.50,94.00 C202.51,91.31 203.47,88.90 204.50,86.50 C205.47,84.24 206.32,82.35 207.50,80.00 C208.94,77.13 210.54,73.61 212.60,70.60 C214.79,67.40 217.68,64.00 220.40,61.40 C222.81,59.10 225.25,57.28 227.90,55.60 C230.55,53.92 233.45,52.46 236.30,51.30 C239.05,50.18 241.40,49.70 244.70,48.70 C249.39,47.27 256.08,44.63 261.80,43.60 C267.34,42.60 273.44,42.20 278.50,42.50 C282.76,42.76 286.63,43.61 290.20,44.70 C293.40,45.68 296.39,46.83 299.00,48.50 C301.53,50.12 303.46,52.41 305.70,54.50 C308.03,56.67 310.52,58.75 312.70,61.30 C315.04,64.04 317.25,67.17 319.20,70.50 C321.28,74.04 323.04,78.18 324.70,82.00 C326.30,85.68 327.68,89.04 329.00,93.00 C330.48,97.46 331.91,102.82 333.00,107.50 C334.00,111.80 334.77,115.70 335.40,120.00 C336.06,124.52 336.33,129.33 336.80,134.00" stroke="#000000" stroke-width="1.20" fill="none" stroke-dasharray="6.8 5.6"/>
<line x1="338.00" y1="152.00" x2="338.00" y2="230.50" stroke="#ff00ff" stroke-width="1.20"/>
<rect x="138.6" y="73.50" width="6.6" height="15" fill="#000"/>
<text x="130.60" y="96.90" font-family="Liberation Serif" font-size="7.40" font-weight="bold" fill="#000000" text-anchor="start" textLength="14.6" lengthAdjust="spacingAndGlyphs">KVA</text>
<polygon points="81.80,143.78 78.50,150.18 85.10,150.18" fill="none" stroke="#333" stroke-width="0.9"/>
<circle cx="81.80" cy="147.90" r="0.45" fill="#555"/>
<text x="70.80" y="160.50" font-family="Liberation Serif" font-size="7.40" font-weight="bold" fill="#000000" text-anchor="start" textLength="20" lengthAdjust="spacingAndGlyphs">VLBA</text>
<rect x="189.1" y="107.90" width="6.1" height="5.4" fill="#0000ff"/>
<line x1="192.20" y1="106.50" x2="192.20" y2="115.00" stroke="#0000ff" stroke-width="0.90"/>
<text x="172.60" y="107.90" font-family="Liberation Serif" font-size="8.30" font-weight="bold" fill="#0000ff" text-anchor="start" textLength="24.6" lengthAdjust="spacingAndGlyphs">ROSAT</text>
<path d="M199.3,73.70 L202.2,70.50 L209.4,73.20" stroke="#ff0000" stroke-width="2.3" fill="none" stroke-linejoin="round" stroke-linecap="round"/>
<line x1="202.00" y1="67.60" x2="202.00" y2="71.20" stroke="#ff0000" stroke-width="1.60"/>
<line x1="209.30" y1="71.20" x2="209.30" y2="74.40" stroke="#ff0000" stroke-width="1.60"/>
<line x1="206.80" y1="87.50" x2="206.80" y2="93.90" stroke="#00ee00" stroke-width="0.90"/>
<polygon points="206.80,88.50 208.20,90.70 206.80,92.90 205.40,90.70" fill="#00ee00"/>
<line x1="203.20" y1="91.00" x2="203.20" y2="95.80" stroke="#00ee00" stroke-width="0.90"/>
<polygon points="203.20,91.20 204.60,93.40 203.20,95.60 201.80,93.40" fill="#00ee00"/>
<line x1="200.30" y1="96.10" x2="200.30" y2="100.60" stroke="#00ee00" stroke-width="0.90"/>
<polygon points="200.30,96.15 201.70,98.35 200.30,100.55 198.90,98.35" fill="#00ee00"/>
<line x1="198.10" y1="104.20" x2="198.10" y2="109.00" stroke="#00ee00" stroke-width="0.90"/>
<polygon points="198.10,104.40 199.50,106.60 198.10,108.80 196.70,106.60" fill="#00ee00"/>
<line x1="196.20" y1="108.30" x2="196.20" y2="112.00" stroke="#00ee00" stroke-width="0.90"/>
<polygon points="196.20,107.95 197.60,110.15 196.20,112.35 194.80,110.15" fill="#00ee00"/>
<line x1="204.30" y1="105.20" x2="204.30" y2="110.70" stroke="#000" stroke-width="0.90"/>
<polygon points="204.30,105.75 205.70,107.95 204.30,110.15 202.90,107.95" fill="#000"/>
<line x1="207.60" y1="103.80" x2="207.60" y2="109.70" stroke="#000" stroke-width="0.90"/>
<polygon points="207.60,104.55 209.00,106.75 207.60,108.95 206.20,106.75" fill="#000"/>
<line x1="201.40" y1="115.20" x2="201.40" y2="120.40" stroke="#000" stroke-width="0.90"/>
<polygon points="201.40,115.60 202.80,117.80 201.40,120.00 200.00,117.80" fill="#000"/>
<line x1="198.60" y1="117.60" x2="198.60" y2="123.30" stroke="#000" stroke-width="0.90"/>
<polygon points="198.60,118.25 200.00,120.45 198.60,122.65 197.20,120.45" fill="#000"/>
<line x1="285.00" y1="104.40" x2="319.20" y2="104.40" stroke="#0000ff" stroke-width="1.10"/>
<line x1="301.60" y1="104.40" x2="301.60" y2="116.00" stroke="#0000ff" stroke-width="1.10"/>
<text x="286.20" y="102.00" font-family="Liberation Serif" font-size="7.60" font-weight="bold" fill="#0000ff" text-anchor="middle" >EGRET</text>
<line x1="284.70" y1="59.90" x2="284.70" y2="66.00" stroke="#ff0000" stroke-width="1.10"/>
<circle cx="284.70" cy="62.70" r="1.1" fill="#ff0000"/>
<line x1="294.80" y1="54.30" x2="294.80" y2="59.90" stroke="#ff0000" stroke-width="1.10"/>
<circle cx="294.80" cy="56.70" r="1.1" fill="#ff0000"/>
<line x1="304.50" y1="51.50" x2="304.50" y2="59.90" stroke="#ff0000" stroke-width="1.10"/>
<circle cx="304.50" cy="54.80" r="1.1" fill="#ff0000"/>
<line x1="314.00" y1="45.90" x2="314.00" y2="57.60" stroke="#ff0000" stroke-width="1.10"/>
<circle cx="314.00" cy="52.00" r="1.1" fill="#ff0000"/>
<line x1="323.70" y1="46.40" x2="323.70" y2="88.30" stroke="#ff0000" stroke-width="1.10"/>
<circle cx="323.70" cy="57.60" r="1.1" fill="#ff0000"/>
<circle cx="281.60" cy="60.40" r="1.2" fill="#00ee00"/>
<circle cx="286.90" cy="59.90" r="1.2" fill="#00ee00"/>
<circle cx="291.60" cy="60.20" r="1.2" fill="#00ee00"/>
<circle cx="297.00" cy="61.00" r="1.2" fill="#00ee00"/>
<circle cx="301.50" cy="63.20" r="1.2" fill="#00ee00"/>
<line x1="305.70" y1="65.40" x2="305.70" y2="68.80" stroke="#00ee00" stroke-width="0.90"/>
<polygon points="305.70,64.90 307.10,67.10 305.70,69.30 304.30,67.10" fill="#00ee00"/>
<line x1="310.70" y1="69.60" x2="310.70" y2="73.00" stroke="#00ee00" stroke-width="0.90"/>
<polygon points="310.70,69.10 312.10,71.30 310.70,73.50 309.30,71.30" fill="#00ee00"/>
<line x1="316.20" y1="69.60" x2="316.20" y2="73.00" stroke="#00ee00" stroke-width="0.90"/>
<polygon points="316.20,69.10 317.60,71.30 316.20,73.50 314.80,71.30" fill="#00ee00"/>
<line x1="321.20" y1="81.30" x2="321.20" y2="87.20" stroke="#00ee00" stroke-width="0.90"/>
<polygon points="321.20,82.05 322.60,84.25 321.20,86.45 319.80,84.25" fill="#00ee00"/>
<line x1="325.80" y1="89.70" x2="325.80" y2="107.30" stroke="#00ee00" stroke-width="0.90"/>
<polygon points="325.80,96.30 327.20,98.50 325.80,100.70 324.40,98.50" fill="#00ee00"/>
<polygon points="296.80,65.98 293.50,72.38 300.10,72.38" fill="none" stroke="#333" stroke-width="0.9"/>
<circle cx="296.80" cy="70.10" r="0.45" fill="#555"/>
<polygon points="304.90,68.08 301.60,74.48 308.20,74.48" fill="none" stroke="#333" stroke-width="0.9"/>
<circle cx="304.90" cy="72.20" r="0.45" fill="#555"/>
<polygon points="292.70,72.88 289.40,79.28 296.00,79.28" fill="none" stroke="#333" stroke-width="0.9"/>
<circle cx="292.70" cy="77.00" r="0.45" fill="#555"/>
<polygon points="308.50,79.88 305.20,86.28 311.80,86.28" fill="none" stroke="#333" stroke-width="0.9"/>
<circle cx="308.50" cy="84.00" r="0.45" fill="#555"/>
<polygon points="318.80,90.88 315.50,97.28 322.10,97.28" fill="none" stroke="#333" stroke-width="0.9"/>
<circle cx="318.80" cy="95.00" r="0.45" fill="#555"/>
<polygon points="311.60,94.58 308.30,100.98 314.90,100.98" fill="none" stroke="#333" stroke-width="0.9"/>
<circle cx="311.60" cy="98.70" r="0.45" fill="#555"/>
<line x1="331.80" y1="126.80" x2="331.80" y2="135.80" stroke="#222" stroke-width="1.00"/>
<polygon points="331.80,127.78 328.50,134.18 335.10,134.18" fill="none" stroke="#333" stroke-width="0.9"/>
<circle cx="331.80" cy="131.90" r="0.45" fill="#555"/>
<line x1="336.00" y1="150.50" x2="336.00" y2="164.50" stroke="#222" stroke-width="1.00"/>
<polygon points="336.00,153.98 332.70,160.38 339.30,160.38" fill="none" stroke="#333" stroke-width="0.9"/>
<circle cx="336.00" cy="158.10" r="0.45" fill="#555"/>
<line x1="341.70" y1="180.90" x2="341.70" y2="186.40" stroke="#222" stroke-width="1.00"/>
<polygon points="341.70,179.88 338.40,186.28 345.00,186.28" fill="none" stroke="#333" stroke-width="0.9"/>
<circle cx="341.70" cy="184.00" r="0.45" fill="#555"/>
<line x1="345.80" y1="196.10" x2="345.80" y2="230.50" stroke="#222" stroke-width="1.00"/>
<polygon points="345.80,204.08 342.50,210.48 349.10,210.48" fill="none" stroke="#333" stroke-width="0.9"/>
<circle cx="345.80" cy="208.20" r="0.45" fill="#555"/>
<text x="307.00" y="186.40" font-family="Liberation Serif" font-size="7.60" font-weight="bold" fill="#000000" text-anchor="start" textLength="24.6" lengthAdjust="spacingAndGlyphs">MAGIC</text>
<text x="188.80" y="43.80" font-family="Liberation Serif" font-size="8.80" font-weight="bold" fill="#000000" text-anchor="start" textLength="20.8" lengthAdjust="spacingAndGlyphs">Swift</text>
<text x="290.10" y="39.00" font-family="Liberation Serif" font-size="9.20" font-weight="bold" fill="#000000" text-anchor="start" textLength="24.4" lengthAdjust="spacingAndGlyphs">Fermi</text>
<text x="131.60" y="44.30" font-family="Liberation Serif" font-size="9.60" font-weight="bold" fill="#00ee00" text-anchor="start" textLength="14.2" lengthAdjust="spacingAndGlyphs">δ*2</text>
<text x="114.40" y="57.90" font-family="Liberation Serif" font-size="9.00" font-weight="bold" fill="#000" text-anchor="start" textLength="15.2" lengthAdjust="spacingAndGlyphs">B*2</text>
<text x="151.00" y="73.20" font-family="Liberation Sans" font-size="9.00" font-weight="bold" fill="#ff00ff" text-anchor="start" textLength="24.4" lengthAdjust="spacingAndGlyphs">p−0.2</text>
<text x="124.50" y="105.30" font-family="Liberation Sans" font-size="9.60" font-weight="normal" fill="#00e5ff" text-anchor="start" >Ke*0.5</text>
<text x="231.9" y="167.4" font-family="Liberation Serif" font-style="italic" font-size="10.5" fill="#ff8a10" textLength="6.6" lengthAdjust="spacingAndGlyphs">γ</text>
<text x="238.8" y="171" font-family="Liberation Serif" font-weight="bold" font-size="8.2" fill="#ff8a10" textLength="13" lengthAdjust="spacingAndGlyphs">max</text>
<text x="252.6" y="167.6" font-family="Liberation Sans" font-weight="bold" font-size="9" fill="#ff8a10" textLength="14.6" lengthAdjust="spacingAndGlyphs">*10</text>
<text x="269.6" y="139.4" font-family="Liberation Serif" font-weight="bold" font-size="10.5" fill="#0000ff">t</text>
<text x="273.6" y="141.8" font-family="Liberation Serif" font-weight="bold" font-size="7.5" fill="#0000ff">v</text>
<text x="277" y="139.4" font-family="Liberation Sans" font-weight="bold" font-size="10" fill="#0000ff" textLength="18.6" lengthAdjust="spacingAndGlyphs">*3.3</text>
<g transform="translate(-0.5,0)">
<line x1="71.42" y1="519.00" x2="71.42" y2="514.00" stroke="#000000" stroke-width="1.00"/>
<line x1="71.42" y1="296.00" x2="71.42" y2="301.00" stroke="#000000" stroke-width="1.00"/>
<line x1="88.24" y1="519.00" x2="88.24" y2="516.40" stroke="#000000" stroke-width="1.00"/>
<line x1="88.24" y1="296.00" x2="88.24" y2="298.60" stroke="#000000" stroke-width="1.00"/>
<line x1="105.06" y1="519.00" x2="105.06" y2="516.40" stroke="#000000" stroke-width="1.00"/>
<line x1="105.06" y1="296.00" x2="105.06" y2="298.60" stroke="#000000" stroke-width="1.00"/>
<line x1="121.88" y1="519.00" x2="121.88" y2="516.40" stroke="#000000" stroke-width="1.00"/>
<line x1="121.88" y1="296.00" x2="121.88" y2="298.60" stroke="#000000" stroke-width="1.00"/>
<line x1="138.70" y1="519.00" x2="138.70" y2="516.40" stroke="#000000" stroke-width="1.00"/>
<line x1="138.70" y1="296.00" x2="138.70" y2="298.60" stroke="#000000" stroke-width="1.00"/>
<line x1="155.52" y1="519.00" x2="155.52" y2="514.00" stroke="#000000" stroke-width="1.00"/>
<line x1="155.52" y1="296.00" x2="155.52" y2="301.00" stroke="#000000" stroke-width="1.00"/>
<line x1="172.34" y1="519.00" x2="172.34" y2="516.40" stroke="#000000" stroke-width="1.00"/>
<line x1="172.34" y1="296.00" x2="172.34" y2="298.60" stroke="#000000" stroke-width="1.00"/>
<line x1="189.16" y1="519.00" x2="189.16" y2="516.40" stroke="#000000" stroke-width="1.00"/>
<line x1="189.16" y1="296.00" x2="189.16" y2="298.60" stroke="#000000" stroke-width="1.00"/>
<line x1="205.98" y1="519.00" x2="205.98" y2="516.40" stroke="#000000" stroke-width="1.00"/>
<line x1="205.98" y1="296.00" x2="205.98" y2="298.60" stroke="#000000" stroke-width="1.00"/>
<line x1="222.80" y1="519.00" x2="222.80" y2="516.40" stroke="#000000" stroke-width="1.00"/>
<line x1="222.80" y1="296.00" x2="222.80" y2="298.60" stroke="#000000" stroke-width="1.00"/>
<line x1="239.62" y1="519.00" x2="239.62" y2="514.00" stroke="#000000" stroke-width="1.00"/>
<line x1="239.62" y1="296.00" x2="239.62" y2="301.00" stroke="#000000" stroke-width="1.00"/>
<line x1="256.44" y1="519.00" x2="256.44" y2="516.40" stroke="#000000" stroke-width="1.00"/>
<line x1="256.44" y1="296.00" x2="256.44" y2="298.60" stroke="#000000" stroke-width="1.00"/>
<line x1="273.26" y1="519.00" x2="273.26" y2="516.40" stroke="#000000" stroke-width="1.00"/>
<line x1="273.26" y1="296.00" x2="273.26" y2="298.60" stroke="#000000" stroke-width="1.00"/>
<line x1="290.08" y1="519.00" x2="290.08" y2="516.40" stroke="#000000" stroke-width="1.00"/>
<line x1="290.08" y1="296.00" x2="290.08" y2="298.60" stroke="#000000" stroke-width="1.00"/>
<line x1="306.90" y1="519.00" x2="306.90" y2="516.40" stroke="#000000" stroke-width="1.00"/>
<line x1="306.90" y1="296.00" x2="306.90" y2="298.60" stroke="#000000" stroke-width="1.00"/>
<line x1="323.72" y1="519.00" x2="323.72" y2="514.00" stroke="#000000" stroke-width="1.00"/>
<line x1="323.72" y1="296.00" x2="323.72" y2="301.00" stroke="#000000" stroke-width="1.00"/>
<line x1="340.54" y1="519.00" x2="340.54" y2="516.40" stroke="#000000" stroke-width="1.00"/>
<line x1="340.54" y1="296.00" x2="340.54" y2="298.60" stroke="#000000" stroke-width="1.00"/>
<line x1="54.50" y1="518.73" x2="57.10" y2="518.73" stroke="#000000" stroke-width="1.00"/>
<line x1="357.50" y1="518.73" x2="354.90" y2="518.73" stroke="#000000" stroke-width="1.00"/>
<line x1="54.50" y1="510.38" x2="57.10" y2="510.38" stroke="#000000" stroke-width="1.00"/>
<line x1="357.50" y1="510.38" x2="354.90" y2="510.38" stroke="#000000" stroke-width="1.00"/>
<line x1="54.50" y1="504.46" x2="57.10" y2="504.46" stroke="#000000" stroke-width="1.00"/>
<line x1="357.50" y1="504.46" x2="354.90" y2="504.46" stroke="#000000" stroke-width="1.00"/>
<line x1="54.50" y1="499.87" x2="57.10" y2="499.87" stroke="#000000" stroke-width="1.00"/>
<line x1="357.50" y1="499.87" x2="354.90" y2="499.87" stroke="#000000" stroke-width="1.00"/>
<line x1="54.50" y1="496.12" x2="57.10" y2="496.12" stroke="#000000" stroke-width="1.00"/>
<line x1="357.50" y1="496.12" x2="354.90" y2="496.12" stroke="#000000" stroke-width="1.00"/>
<line x1="54.50" y1="492.94" x2="57.10" y2="492.94" stroke="#000000" stroke-width="1.00"/>
<line x1="357.50" y1="492.94" x2="354.90" y2="492.94" stroke="#000000" stroke-width="1.00"/>
<line x1="54.50" y1="490.19" x2="57.10" y2="490.19" stroke="#000000" stroke-width="1.00"/>
<line x1="357.50" y1="490.19" x2="354.90" y2="490.19" stroke="#000000" stroke-width="1.00"/>
<line x1="54.50" y1="487.77" x2="57.10" y2="487.77" stroke="#000000" stroke-width="1.00"/>
<line x1="357.50" y1="487.77" x2="354.90" y2="487.77" stroke="#000000" stroke-width="1.00"/>
<line x1="54.50" y1="485.60" x2="59.50" y2="485.60" stroke="#000000" stroke-width="1.00"/>
<line x1="357.50" y1="485.60" x2="352.50" y2="485.60" stroke="#000000" stroke-width="1.00"/>
<line x1="54.50" y1="471.33" x2="57.10" y2="471.33" stroke="#000000" stroke-width="1.00"/>
<line x1="357.50" y1="471.33" x2="354.90" y2="471.33" stroke="#000000" stroke-width="1.00"/>
<line x1="54.50" y1="462.98" x2="57.10" y2="462.98" stroke="#000000" stroke-width="1.00"/>
<line x1="357.50" y1="462.98" x2="354.90" y2="462.98" stroke="#000000" stroke-width="1.00"/>
<line x1="54.50" y1="457.06" x2="57.10" y2="457.06" stroke="#000000" stroke-width="1.00"/>
<line x1="357.50" y1="457.06" x2="354.90" y2="457.06" stroke="#000000" stroke-width="1.00"/>
<line x1="54.50" y1="452.47" x2="57.10" y2="452.47" stroke="#000000" stroke-width="1.00"/>
<line x1="357.50" y1="452.47" x2="354.90" y2="452.47" stroke="#000000" stroke-width="1.00"/>
<line x1="54.50" y1="448.72" x2="57.10" y2="448.72" stroke="#000000" stroke-width="1.00"/>
<line x1="357.50" y1="448.72" x2="354.90" y2="448.72" stroke="#000000" stroke-width="1.00"/>
<line x1="54.50" y1="445.54" x2="57.10" y2="445.54" stroke="#000000" stroke-width="1.00"/>
<line x1="357.50" y1="445.54" x2="354.90" y2="445.54" stroke="#000000" stroke-width="1.00"/>
<line x1="54.50" y1="442.79" x2="57.10" y2="442.79" stroke="#000000" stroke-width="1.00"/>
<line x1="357.50" y1="442.79" x2="354.90" y2="442.79" stroke="#000000" stroke-width="1.00"/>
<line x1="54.50" y1="440.37" x2="57.10" y2="440.37" stroke="#000000" stroke-width="1.00"/>
<line x1="357.50" y1="440.37" x2="354.90" y2="440.37" stroke="#000000" stroke-width="1.00"/>
<line x1="54.50" y1="438.20" x2="59.50" y2="438.20" stroke="#000000" stroke-width="1.00"/>
<line x1="357.50" y1="438.20" x2="352.50" y2="438.20" stroke="#000000" stroke-width="1.00"/>
<line x1="54.50" y1="423.93" x2="57.10" y2="423.93" stroke="#000000" stroke-width="1.00"/>
<line x1="357.50" y1="423.93" x2="354.90" y2="423.93" stroke="#000000" stroke-width="1.00"/>
<line x1="54.50" y1="415.58" x2="57.10" y2="415.58" stroke="#000000" stroke-width="1.00"/>
<line x1="357.50" y1="415.58" x2="354.90" y2="415.58" stroke="#000000" stroke-width="1.00"/>
<line x1="54.50" y1="409.66" x2="57.10" y2="409.66" stroke="#000000" stroke-width="1.00"/>
<line x1="357.50" y1="409.66" x2="354.90" y2="409.66" stroke="#000000" stroke-width="1.00"/>
<line x1="54.50" y1="405.07" x2="57.10" y2="405.07" stroke="#000000" stroke-width="1.00"/>
<line x1="357.50" y1="405.07" x2="354.90" y2="405.07" stroke="#000000" stroke-width="1.00"/>
<line x1="54.50" y1="401.32" x2="57.10" y2="401.32" stroke="#000000" stroke-width="1.00"/>
<line x1="357.50" y1="401.32" x2="354.90" y2="401.32" stroke="#000000" stroke-width="1.00"/>
<line x1="54.50" y1="398.14" x2="57.10" y2="398.14" stroke="#000000" stroke-width="1.00"/>
<line x1="357.50" y1="398.14" x2="354.90" y2="398.14" stroke="#000000" stroke-width="1.00"/>
<line x1="54.50" y1="395.39" x2="57.10" y2="395.39" stroke="#000000" stroke-width="1.00"/>
<line x1="357.50" y1="395.39" x2="354.90" y2="395.39" stroke="#000000" stroke-width="1.00"/>
<line x1="54.50" y1="392.97" x2="57.10" y2="392.97" stroke="#000000" stroke-width="1.00"/>
<line x1="357.50" y1="392.97" x2="354.90" y2="392.97" stroke="#000000" stroke-width="1.00"/>
<line x1="54.50" y1="390.80" x2="59.50" y2="390.80" stroke="#000000" stroke-width="1.00"/>
<line x1="357.50" y1="390.80" x2="352.50" y2="390.80" stroke="#000000" stroke-width="1.00"/>
<line x1="54.50" y1="376.53" x2="57.10" y2="376.53" stroke="#000000" stroke-width="1.00"/>
<line x1="357.50" y1="376.53" x2="354.90" y2="376.53" stroke="#000000" stroke-width="1.00"/>
<line x1="54.50" y1="368.18" x2="57.10" y2="368.18" stroke="#000000" stroke-width="1.00"/>
<line x1="357.50" y1="368.18" x2="354.90" y2="368.18" stroke="#000000" stroke-width="1.00"/>
<line x1="54.50" y1="362.26" x2="57.10" y2="362.26" stroke="#000000" stroke-width="1.00"/>
<line x1="357.50" y1="362.26" x2="354.90" y2="362.26" stroke="#000000" stroke-width="1.00"/>
<line x1="54.50" y1="357.67" x2="57.10" y2="357.67" stroke="#000000" stroke-width="1.00"/>
<line x1="357.50" y1="357.67" x2="354.90" y2="357.67" stroke="#000000" stroke-width="1.00"/>
<line x1="54.50" y1="353.92" x2="57.10" y2="353.92" stroke="#000000" stroke-width="1.00"/>
<line x1="357.50" y1="353.92" x2="354.90" y2="353.92" stroke="#000000" stroke-width="1.00"/>
<line x1="54.50" y1="350.74" x2="57.10" y2="350.74" stroke="#000000" stroke-width="1.00"/>
<line x1="357.50" y1="350.74" x2="354.90" y2="350.74" stroke="#000000" stroke-width="1.00"/>
<line x1="54.50" y1="347.99" x2="57.10" y2="347.99" stroke="#000000" stroke-width="1.00"/>
<line x1="357.50" y1="347.99" x2="354.90" y2="347.99" stroke="#000000" stroke-width="1.00"/>
<line x1="54.50" y1="345.57" x2="57.10" y2="345.57" stroke="#000000" stroke-width="1.00"/>
<line x1="357.50" y1="345.57" x2="354.90" y2="345.57" stroke="#000000" stroke-width="1.00"/>
<line x1="54.50" y1="343.40" x2="59.50" y2="343.40" stroke="#000000" stroke-width="1.00"/>
<line x1="357.50" y1="343.40" x2="352.50" y2="343.40" stroke="#000000" stroke-width="1.00"/>
<line x1="54.50" y1="329.13" x2="57.10" y2="329.13" stroke="#000000" stroke-width="1.00"/>
<line x1="357.50" y1="329.13" x2="354.90" y2="329.13" stroke="#000000" stroke-width="1.00"/>
<line x1="54.50" y1="320.78" x2="57.10" y2="320.78" stroke="#000000" stroke-width="1.00"/>
<line x1="357.50" y1="320.78" x2="354.90" y2="320.78" stroke="#000000" stroke-width="1.00"/>
<line x1="54.50" y1="314.86" x2="57.10" y2="314.86" stroke="#000000" stroke-width="1.00"/>
<line x1="357.50" y1="314.86" x2="354.90" y2="314.86" stroke="#000000" stroke-width="1.00"/>
<line x1="54.50" y1="310.27" x2="57.10" y2="310.27" stroke="#000000" stroke-width="1.00"/>
<line x1="357.50" y1="310.27" x2="354.90" y2="310.27" stroke="#000000" stroke-width="1.00"/>
<line x1="54.50" y1="306.52" x2="57.10" y2="306.52" stroke="#000000" stroke-width="1.00"/>
<line x1="357.50" y1="306.52" x2="354.90" y2="306.52" stroke="#000000" stroke-width="1.00"/>
<line x1="54.50" y1="303.34" x2="57.10" y2="303.34" stroke="#000000" stroke-width="1.00"/>
<line x1="357.50" y1="303.34" x2="354.90" y2="303.34" stroke="#000000" stroke-width="1.00"/>
<line x1="54.50" y1="300.59" x2="57.10" y2="300.59" stroke="#000000" stroke-width="1.00"/>
<line x1="357.50" y1="300.59" x2="354.90" y2="300.59" stroke="#000000" stroke-width="1.00"/>
<line x1="54.50" y1="298.17" x2="57.10" y2="298.17" stroke="#000000" stroke-width="1.00"/>
<line x1="357.50" y1="298.17" x2="354.90" y2="298.17" stroke="#000000" stroke-width="1.00"/>
<line x1="54.50" y1="296.00" x2="59.50" y2="296.00" stroke="#000000" stroke-width="1.00"/>
<line x1="357.50" y1="296.00" x2="352.50" y2="296.00" stroke="#000000" stroke-width="1.00"/>
<rect x="54.5" y="296.0" width="303.0" height="223.0" fill="none" stroke="#000" stroke-width="1"/>
<text x="26.80" y="299.90" font-family="Liberation Serif" font-size="11.2" textLength="11.2" lengthAdjust="spacingAndGlyphs" fill="#000" stroke="#000" stroke-width="0.3">10</text>
<text x="39.00" y="295.00" font-family="Liberation Serif" font-size="7.6" textLength="10.0" lengthAdjust="spacingAndGlyphs" fill="#000" stroke="#000" stroke-width="0.25">−9</text>
<text x="22.30" y="347.30" font-family="Liberation Serif" font-size="11.2" textLength="11.2" lengthAdjust="spacingAndGlyphs" fill="#000" stroke="#000" stroke-width="0.3">10</text>
<text x="34.50" y="342.40" font-family="Liberation Serif" font-size="7.6" textLength="15.2" lengthAdjust="spacingAndGlyphs" fill="#000" stroke="#000" stroke-width="0.25">−10</text>
<text x="22.30" y="394.70" font-family="Liberation Serif" font-size="11.2" textLength="11.2" lengthAdjust="spacingAndGlyphs" fill="#000" stroke="#000" stroke-width="0.3">10</text>
<text x="34.50" y="389.80" font-family="Liberation Serif" font-size="7.6" textLength="15.2" lengthAdjust="spacingAndGlyphs" fill="#000" stroke="#000" stroke-width="0.25">−11</text>
<text x="22.30" y="442.10" font-family="Liberation Serif" font-size="11.2" textLength="11.2" lengthAdjust="spacingAndGlyphs" fill="#000" stroke="#000" stroke-width="0.3">10</text>
<text x="34.50" y="437.20" font-family="Liberation Serif" font-size="7.6" textLength="15.2" lengthAdjust="spacingAndGlyphs" fill="#000" stroke="#000" stroke-width="0.25">−12</text>
<text x="22.30" y="489.50" font-family="Liberation Serif" font-size="11.2" textLength="11.2" lengthAdjust="spacingAndGlyphs" fill="#000" stroke="#000" stroke-width="0.3">10</text>
<text x="34.50" y="484.60" font-family="Liberation Serif" font-size="7.6" textLength="15.2" lengthAdjust="spacingAndGlyphs" fill="#000" stroke="#000" stroke-width="0.25">−13</text>
<text x="72.02" y="532.10" font-family="Liberation Serif" font-size="11.60" font-weight="normal" fill="#000000" text-anchor="middle" textLength="11.2" lengthAdjust="spacingAndGlyphs" stroke="#000" stroke-width="0.3">10</text>
<text x="156.12" y="532.10" font-family="Liberation Serif" font-size="11.60" font-weight="normal" fill="#000000" text-anchor="middle" textLength="11.2" lengthAdjust="spacingAndGlyphs" stroke="#000" stroke-width="0.3">15</text>
<text x="240.22" y="532.10" font-family="Liberation Serif" font-size="11.60" font-weight="normal" fill="#000000" text-anchor="middle" textLength="11.2" lengthAdjust="spacingAndGlyphs" stroke="#000" stroke-width="0.3">20</text>
<text x="324.32" y="532.10" font-family="Liberation Serif" font-size="11.60" font-weight="normal" fill="#000000" text-anchor="middle" textLength="11.2" lengthAdjust="spacingAndGlyphs" stroke="#000" stroke-width="0.3">25</text>
<text x="177.4" y="546.10" font-family="Liberation Serif" font-style="italic" font-size="11.5" fill="#000" textLength="5" lengthAdjust="spacingAndGlyphs">ν</text>
<text x="188.4" y="546.10" font-family="Liberation Serif" font-size="11" textLength="19.6" lengthAdjust="spacingAndGlyphs" fill="#000">(log</text>
<text x="208.6" y="549.70" font-family="Liberation Serif" font-size="8.6" textLength="9" lengthAdjust="spacingAndGlyphs" fill="#000">10</text>
<text x="218.2" y="546.10" font-family="Liberation Serif" font-size="11" textLength="16.8" lengthAdjust="spacingAndGlyphs" fill="#000">Hz)</text>
<g transform="translate(11.9,288.50) rotate(-90)"><text x="-166.7" y="0" font-family="Liberation Serif" font-size="10" textLength="19" lengthAdjust="spacingAndGlyphs" fill="#000"><tspan font-style="italic">ν</tspan>F<tspan font-style="italic">ν</tspan></text><text x="-143.4" y="0" font-family="Liberation Serif" font-size="12.2" textLength="56.4" lengthAdjust="spacingAndGlyphs" fill="#000">(erg/s/cm</text><text x="-86.6" y="-5.2" font-family="Liberation Serif" font-size="8" fill="#000">2</text><text x="-80.4" y="0" font-family="Liberation Serif" font-size="12.2" fill="#000">)</text></g>
</g>
<path d="M91.40,520.00 C91.93,518.83 92.44,517.88 93.00,516.50 C93.78,514.58 94.53,511.80 95.50,509.50 C96.49,507.16 97.47,505.02 98.90,502.60 C100.65,499.64 103.29,496.41 105.50,493.20 C107.79,489.88 109.95,486.36 112.40,483.00 C114.91,479.56 117.85,476.27 120.40,472.80 C122.95,469.34 125.32,465.65 127.70,462.20 C129.98,458.89 132.09,455.82 134.40,452.50 C136.85,448.97 139.51,445.28 142.00,441.60 C144.51,437.89 146.90,433.90 149.40,430.30 C151.77,426.88 154.19,423.77 156.60,420.50 C159.02,417.21 161.49,413.98 163.90,410.60 C166.36,407.15 169.16,402.96 171.20,400.00 C172.67,397.87 173.68,396.27 175.00,394.50 C176.29,392.77 177.77,391.07 179.00,389.50 C180.08,388.12 181.00,386.89 182.00,385.60 C183.00,384.32 183.93,383.15 185.00,381.80 C186.24,380.25 187.74,378.47 189.00,376.80 C190.20,375.20 191.27,373.60 192.40,372.00" stroke="#000000" stroke-width="1.20" fill="none" stroke-dasharray="6.8 5.6"/>
<path d="M130.00,367.90 C135.07,368.53 140.55,369.01 145.20,369.80 C149.21,370.48 152.62,371.56 156.30,372.20 C159.89,372.82 164.02,372.78 167.00,373.60 C169.28,374.23 170.96,375.05 172.80,376.10 C174.69,377.17 176.84,378.61 178.20,380.00 C179.28,381.11 179.90,382.44 180.60,383.50 C181.17,384.37 181.61,384.92 182.10,385.90 C182.78,387.26 183.44,389.22 184.10,391.00 C184.81,392.91 185.40,394.91 186.20,397.00 C187.10,399.35 188.48,401.35 189.30,404.40 C190.51,408.92 190.80,415.66 191.50,421.80 C192.28,428.68 193.00,436.07 193.70,443.70 C194.47,452.04 195.25,461.17 195.90,469.90 C196.55,478.61 197.16,487.57 197.60,496.00 C198.01,503.91 198.20,511.33 198.50,519.00" stroke="#00ff00" stroke-width="1.20" fill="none" stroke-dasharray="6.8 5.6"/>
<path d="M209.40,518.50 C212.93,511.00 216.40,503.59 220.00,496.00 C223.70,488.20 227.68,479.35 231.30,472.30 C234.30,466.45 237.05,461.67 240.00,456.50 C242.89,451.44 245.93,446.50 248.80,441.60 C251.59,436.84 254.25,432.09 257.00,427.50 C259.66,423.06 262.43,418.63 265.00,414.50 C267.35,410.73 269.36,407.31 271.80,403.70 C274.37,399.91 277.38,396.26 280.10,392.30 C282.95,388.15 285.63,383.44 288.50,379.30 C291.24,375.35 294.22,371.44 296.90,368.00 C299.22,365.02 301.16,362.47 303.60,359.80 C306.17,356.99 309.37,354.00 312.00,351.60 C314.19,349.60 316.17,348.03 318.20,346.30 C320.16,344.63 322.14,342.75 324.00,341.40 C325.55,340.27 326.97,339.43 328.50,338.60 C329.98,337.80 331.62,337.00 333.00,336.50 C334.11,336.10 335.08,335.81 336.10,335.70 C337.08,335.59 338.07,335.66 339.00,335.80 C339.90,335.93 340.70,336.06 341.60,336.50 C342.78,337.08 344.27,338.07 345.30,339.30 C346.46,340.69 347.09,342.83 348.00,344.60 C348.92,346.39 350.13,348.10 350.80,350.00 C351.47,351.90 351.68,353.85 352.00,356.00 C352.37,358.47 352.59,361.12 352.80,364.00 C353.05,367.37 353.17,370.93 353.30,375.00 C353.46,380.05 353.50,385.63 353.60,392.00 C353.73,400.17 353.85,409.84 354.00,420.00 C354.18,432.15 354.44,445.40 354.60,460.00 C354.79,477.65 354.87,499.00 355.00,518.50" stroke="#000000" stroke-width="1.20" fill="none" stroke-dasharray="6.8 5.6"/>
<path d="M57.20,493.50 C58.30,489.83 59.33,486.47 60.50,482.50 C61.87,477.85 63.45,472.09 64.90,467.30 C66.21,462.97 67.50,459.05 68.80,455.00 C70.07,451.05 71.46,447.05 72.60,443.30 C73.64,439.87 74.49,436.69 75.40,433.40 C76.29,430.15 77.06,427.04 78.00,423.70 C79.01,420.09 80.19,416.19 81.30,412.50 C82.39,408.89 83.53,405.24 84.60,401.80 C85.60,398.59 86.55,395.41 87.50,392.50 C88.35,389.91 89.13,387.52 90.00,385.20 C90.81,383.04 91.64,380.98 92.50,379.00 C93.31,377.13 94.11,375.24 95.00,373.60 C95.79,372.14 96.62,370.81 97.50,369.60 C98.30,368.50 99.10,367.39 100.00,366.60 C100.78,365.91 101.63,365.37 102.50,365.00 C103.31,364.66 104.12,364.49 105.00,364.40 C105.95,364.30 106.79,364.43 108.00,364.50 C109.85,364.61 112.17,364.77 115.00,365.10 C119.42,365.62 126.16,366.87 131.90,367.60 C137.82,368.35 144.24,369.12 150.00,369.50 C155.23,369.84 160.53,369.64 165.00,369.90 C168.62,370.11 171.54,370.50 174.80,370.80 C178.04,371.10 181.81,371.44 184.50,371.70 C186.41,371.89 187.97,372.29 189.40,372.20 C190.53,372.13 191.48,372.01 192.40,371.50 C193.47,370.91 194.40,369.74 195.30,368.60 C196.35,367.27 197.22,365.17 198.20,363.90 C198.96,362.92 199.62,362.23 200.50,361.50 C201.44,360.72 202.52,359.99 203.70,359.40 C204.97,358.77 206.55,358.21 207.90,357.90 C209.10,357.62 210.32,357.31 211.40,357.50 C212.41,357.68 213.33,358.21 214.20,358.90 C215.23,359.72 216.16,360.89 217.00,362.30 C218.10,364.15 219.00,366.83 219.80,369.30 C220.66,371.95 221.32,374.89 221.90,377.70 C222.48,380.49 222.75,383.12 223.30,386.10 C223.93,389.50 224.82,392.75 225.50,397.00 C226.44,402.89 227.25,410.09 228.00,418.20 C229.01,429.06 229.94,444.95 230.60,456.40 C231.14,465.75 231.42,472.63 231.80,481.90 C232.26,493.00 232.67,506.30 233.10,518.50" stroke="#ff0000" stroke-width="1.20" fill="none"/>
<path d="M156.60,519.50 C158.07,514.83 159.54,510.15 161.00,505.50 C162.44,500.88 163.85,496.24 165.30,491.70 C166.72,487.25 168.15,482.88 169.60,478.50 C171.05,474.15 172.60,469.86 174.00,465.50 C175.40,461.13 176.71,456.69 178.00,452.30 C179.28,447.96 180.54,443.35 181.70,439.30 C182.72,435.75 183.67,432.53 184.60,429.30 C185.47,426.27 186.28,423.36 187.10,420.50 C187.88,417.77 188.65,415.09 189.40,412.50 C190.11,410.06 190.80,407.65 191.50,405.40 C192.14,403.34 192.69,401.61 193.40,399.50 C194.23,397.03 195.21,394.03 196.20,391.50 C197.12,389.15 198.04,387.10 199.10,384.80 C200.25,382.31 201.51,379.58 202.90,377.10 C204.28,374.65 205.93,372.06 207.40,370.00 C208.62,368.29 209.75,366.98 211.00,365.50 C212.28,363.98 213.31,362.50 215.00,361.00 C217.20,359.04 220.52,356.74 223.40,355.10 C226.13,353.54 228.86,352.51 231.80,351.30 C234.97,350.00 238.43,348.64 241.80,347.60 C245.13,346.58 248.40,345.86 251.90,345.10 C255.65,344.28 259.43,343.54 263.60,342.90 C268.32,342.18 273.97,341.14 278.80,341.10 C283.19,341.07 287.13,342.08 291.40,342.40 C295.79,342.72 300.56,343.43 304.80,343.00 C308.73,342.61 312.46,341.21 316.00,340.20 C319.26,339.27 322.37,337.95 325.30,337.20 C327.86,336.54 330.47,336.13 332.60,335.80 C334.25,335.55 335.69,335.20 337.00,335.30 C338.08,335.38 339.03,335.71 339.90,336.10 C340.71,336.46 341.37,337.03 342.10,337.50" stroke="#ff0000" stroke-width="1.20" fill="none"/>
<path d="M246.00,347.20 C250.23,346.30 254.39,345.20 258.70,344.50 C263.09,343.79 267.63,343.05 272.10,343.00 C276.56,342.95 281.85,343.32 285.50,344.20 C288.17,344.84 290.07,345.91 292.20,346.90 C294.23,347.85 296.02,348.80 298.00,350.00 C300.21,351.35 302.69,353.51 304.80,354.70 C306.46,355.64 307.98,356.04 309.50,356.80 C310.98,357.54 312.61,357.95 313.80,359.20 C315.27,360.74 315.91,363.51 317.10,365.90 C318.48,368.66 320.30,371.68 321.60,374.80 C322.95,378.04 324.02,381.51 325.00,385.00 C326.00,388.57 326.63,392.18 327.50,396.00 C328.45,400.15 329.48,404.46 330.50,409.00 C331.61,413.98 332.94,419.66 333.90,424.70 C334.78,429.33 335.56,433.30 336.10,438.10 C336.72,443.62 336.99,449.59 337.20,456.00 C337.44,463.41 337.28,471.06 337.30,480.00 C337.32,491.32 337.30,505.67 337.30,518.50" stroke="#00ff00" stroke-width="1.20" fill="none" stroke-dasharray="6.8 5.6"/>
<line x1="333.50" y1="444.50" x2="333.50" y2="518.50" stroke="#ff0000" stroke-width="1.20"/>
<g transform="translate(-0.4,0)">
<rect x="138.6" y="361.90" width="6.6" height="15" fill="#000"/>
<text x="130.60" y="385.30" font-family="Liberation Serif" font-size="7.40" font-weight="bold" fill="#000000" text-anchor="start" textLength="14.6" lengthAdjust="spacingAndGlyphs">KVA</text>
<polygon points="81.80,432.18 78.50,438.58 85.10,438.58" fill="none" stroke="#333" stroke-width="0.9"/>
<circle cx="81.80" cy="436.30" r="0.45" fill="#555"/>
<text x="70.80" y="448.90" font-family="Liberation Serif" font-size="7.40" font-weight="bold" fill="#000000" text-anchor="start" textLength="20" lengthAdjust="spacingAndGlyphs">VLBA</text>
<rect x="189.1" y="396.30" width="6.1" height="5.4" fill="#0000ff"/>
<line x1="192.20" y1="394.90" x2="192.20" y2="403.40" stroke="#0000ff" stroke-width="0.90"/>
<text x="172.60" y="396.30" font-family="Liberation Serif" font-size="8.30" font-weight="bold" fill="#0000ff" text-anchor="start" textLength="24.6" lengthAdjust="spacingAndGlyphs">ROSAT</text>
<path d="M199.3,362.10 L202.2,358.90 L209.4,361.60" stroke="#ff0000" stroke-width="2.3" fill="none" stroke-linejoin="round" stroke-linecap="round"/>
<line x1="202.00" y1="356.00" x2="202.00" y2="359.60" stroke="#ff0000" stroke-width="1.60"/>
<line x1="209.30" y1="359.60" x2="209.30" y2="362.80" stroke="#ff0000" stroke-width="1.60"/>
<line x1="206.80" y1="375.90" x2="206.80" y2="382.30" stroke="#00ee00" stroke-width="0.90"/>
<polygon points="206.80,376.90 208.20,379.10 206.80,381.30 205.40,379.10" fill="#00ee00"/>
<line x1="203.20" y1="379.40" x2="203.20" y2="384.20" stroke="#00ee00" stroke-width="0.90"/>
<polygon points="203.20,379.60 204.60,381.80 203.20,384.00 201.80,381.80" fill="#00ee00"/>
<line x1="200.30" y1="384.50" x2="200.30" y2="389.00" stroke="#00ee00" stroke-width="0.90"/>
<polygon points="200.30,384.55 201.70,386.75 200.30,388.95 198.90,386.75" fill="#00ee00"/>
<line x1="198.10" y1="392.60" x2="198.10" y2="397.40" stroke="#00ee00" stroke-width="0.90"/>
<polygon points="198.10,392.80 199.50,395.00 198.10,397.20 196.70,395.00" fill="#00ee00"/>
<line x1="196.20" y1="396.70" x2="196.20" y2="400.40" stroke="#00ee00" stroke-width="0.90"/>
<polygon points="196.20,396.35 197.60,398.55 196.20,400.75 194.80,398.55" fill="#00ee00"/>
<line x1="204.30" y1="393.60" x2="204.30" y2="399.10" stroke="#000" stroke-width="0.90"/>
<polygon points="204.30,394.15 205.70,396.35 204.30,398.55 202.90,396.35" fill="#000"/>
<line x1="207.60" y1="392.20" x2="207.60" y2="398.10" stroke="#000" stroke-width="0.90"/>
<polygon points="207.60,392.95 209.00,395.15 207.60,397.35 206.20,395.15" fill="#000"/>
<line x1="201.40" y1="403.60" x2="201.40" y2="408.80" stroke="#000" stroke-width="0.90"/>
<polygon points="201.40,404.00 202.80,406.20 201.40,408.40 200.00,406.20" fill="#000"/>
<line x1="198.60" y1="406.00" x2="198.60" y2="411.70" stroke="#000" stroke-width="0.90"/>
<polygon points="198.60,406.65 200.00,408.85 198.60,411.05 197.20,408.85" fill="#000"/>
<line x1="285.00" y1="392.80" x2="319.20" y2="392.80" stroke="#0000ff" stroke-width="1.10"/>
<line x1="301.60" y1="392.80" x2="301.60" y2="404.40" stroke="#0000ff" stroke-width="1.10"/>
<text x="286.20" y="390.40" font-family="Liberation Serif" font-size="7.60" font-weight="bold" fill="#0000ff" text-anchor="middle" >EGRET</text>
<line x1="284.70" y1="348.30" x2="284.70" y2="354.40" stroke="#ff0000" stroke-width="1.10"/>
<circle cx="284.70" cy="351.10" r="1.1" fill="#ff0000"/>
<line x1="294.80" y1="342.70" x2="294.80" y2="348.30" stroke="#ff0000" stroke-width="1.10"/>
<circle cx="294.80" cy="345.10" r="1.1" fill="#ff0000"/>
<line x1="304.50" y1="339.90" x2="304.50" y2="348.30" stroke="#ff0000" stroke-width="1.10"/>
<circle cx="304.50" cy="343.20" r="1.1" fill="#ff0000"/>
<line x1="314.00" y1="334.30" x2="314.00" y2="346.00" stroke="#ff0000" stroke-width="1.10"/>
<circle cx="314.00" cy="340.40" r="1.1" fill="#ff0000"/>
<line x1="323.70" y1="334.80" x2="323.70" y2="376.70" stroke="#ff0000" stroke-width="1.10"/>
<circle cx="323.70" cy="346.00" r="1.1" fill="#ff0000"/>
<circle cx="281.60" cy="348.80" r="1.2" fill="#00ee00"/>
<circle cx="286.90" cy="348.30" r="1.2" fill="#00ee00"/>
<circle cx="291.60" cy="348.60" r="1.2" fill="#00ee00"/>
<circle cx="297.00" cy="349.40" r="1.2" fill="#00ee00"/>
<circle cx="301.50" cy="351.60" r="1.2" fill="#00ee00"/>
<line x1="305.70" y1="353.80" x2="305.70" y2="357.20" stroke="#00ee00" stroke-width="0.90"/>
<polygon points="305.70,353.30 307.10,355.50 305.70,357.70 304.30,355.50" fill="#00ee00"/>
<line x1="310.70" y1="358.00" x2="310.70" y2="361.40" stroke="#00ee00" stroke-width="0.90"/>
<polygon points="310.70,357.50 312.10,359.70 310.70,361.90 309.30,359.70" fill="#00ee00"/>
<line x1="316.20" y1="358.00" x2="316.20" y2="361.40" stroke="#00ee00" stroke-width="0.90"/>
<polygon points="316.20,357.50 317.60,359.70 316.20,361.90 314.80,359.70" fill="#00ee00"/>
<line x1="321.20" y1="369.70" x2="321.20" y2="375.60" stroke="#00ee00" stroke-width="0.90"/>
<polygon points="321.20,370.45 322.60,372.65 321.20,374.85 319.80,372.65" fill="#00ee00"/>
<line x1="325.80" y1="378.10" x2="325.80" y2="395.70" stroke="#00ee00" stroke-width="0.90"/>
<polygon points="325.80,384.70 327.20,386.90 325.80,389.10 324.40,386.90" fill="#00ee00"/>
<polygon points="296.80,354.38 293.50,360.78 300.10,360.78" fill="none" stroke="#333" stroke-width="0.9"/>
<circle cx="296.80" cy="358.50" r="0.45" fill="#555"/>
<polygon points="304.90,356.48 301.60,362.88 308.20,362.88" fill="none" stroke="#333" stroke-width="0.9"/>
<circle cx="304.90" cy="360.60" r="0.45" fill="#555"/>
<polygon points="292.70,361.28 289.40,367.68 296.00,367.68" fill="none" stroke="#333" stroke-width="0.9"/>
<circle cx="292.70" cy="365.40" r="0.45" fill="#555"/>
<polygon points="308.50,368.28 305.20,374.68 311.80,374.68" fill="none" stroke="#333" stroke-width="0.9"/>
<circle cx="308.50" cy="372.40" r="0.45" fill="#555"/>
<polygon points="318.80,379.28 315.50,385.68 322.10,385.68" fill="none" stroke="#333" stroke-width="0.9"/>
<circle cx="318.80" cy="383.40" r="0.45" fill="#555"/>
<polygon points="311.60,382.98 308.30,389.38 314.90,389.38" fill="none" stroke="#333" stroke-width="0.9"/>
<circle cx="311.60" cy="387.10" r="0.45" fill="#555"/>
<line x1="331.80" y1="415.20" x2="331.80" y2="424.20" stroke="#222" stroke-width="1.00"/>
<polygon points="331.80,416.18 328.50,422.58 335.10,422.58" fill="none" stroke="#333" stroke-width="0.9"/>
<circle cx="331.80" cy="420.30" r="0.45" fill="#555"/>
<line x1="336.00" y1="438.90" x2="336.00" y2="452.90" stroke="#222" stroke-width="1.00"/>
<polygon points="336.00,442.38 332.70,448.78 339.30,448.78" fill="none" stroke="#333" stroke-width="0.9"/>
<circle cx="336.00" cy="446.50" r="0.45" fill="#555"/>
<line x1="341.70" y1="469.30" x2="341.70" y2="474.80" stroke="#222" stroke-width="1.00"/>
<polygon points="341.70,468.28 338.40,474.68 345.00,474.68" fill="none" stroke="#333" stroke-width="0.9"/>
<circle cx="341.70" cy="472.40" r="0.45" fill="#555"/>
<line x1="345.80" y1="484.50" x2="345.80" y2="518.90" stroke="#222" stroke-width="1.00"/>
<polygon points="345.80,492.48 342.50,498.88 349.10,498.88" fill="none" stroke="#333" stroke-width="0.9"/>
<circle cx="345.80" cy="496.60" r="0.45" fill="#555"/>
<text x="307.00" y="474.80" font-family="Liberation Serif" font-size="7.60" font-weight="bold" fill="#000000" text-anchor="start" textLength="24.6" lengthAdjust="spacingAndGlyphs">MAGIC</text>
<text x="188.80" y="332.20" font-family="Liberation Serif" font-size="8.80" font-weight="bold" fill="#000000" text-anchor="start" textLength="20.8" lengthAdjust="spacingAndGlyphs">Swift</text>
<text x="290.10" y="327.40" font-family="Liberation Serif" font-size="9.20" font-weight="bold" fill="#000000" text-anchor="start" textLength="24.4" lengthAdjust="spacingAndGlyphs">Fermi</text>
</g></svg>
</body></html>
